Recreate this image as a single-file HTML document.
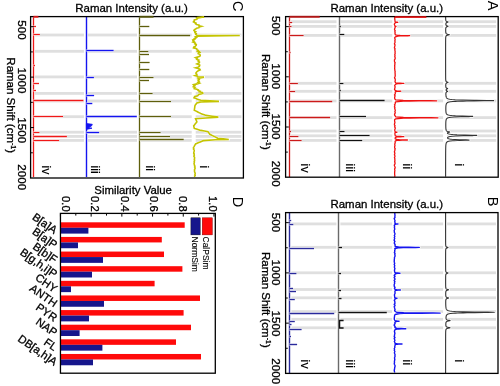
<!DOCTYPE html><html><head><meta charset="utf-8"><style>html,body{margin:0;padding:0;background:#fff;width:500px;height:386px;overflow:hidden}</style></head><body><svg width="500" height="386" viewBox="0 0 500 386" font-family="'Liberation Sans', sans-serif" style="display:block;will-change:transform">
<style>text{stroke:#000;stroke-width:0.3px}</style>
<rect width="500" height="386" fill="#fff"/>
<rect x="286.6" y="20.3" width="209.59999999999997" height="2.8" fill="#dfdfdf"/>
<rect x="286.6" y="25.0" width="209.59999999999997" height="2.8" fill="#dfdfdf"/>
<rect x="286.6" y="34.0" width="209.59999999999997" height="2.8" fill="#dfdfdf"/>
<rect x="286.6" y="81.89999999999999" width="209.59999999999997" height="2.8" fill="#dfdfdf"/>
<rect x="286.6" y="89.89999999999999" width="209.59999999999997" height="2.8" fill="#dfdfdf"/>
<rect x="286.6" y="99.5" width="209.59999999999997" height="2.8" fill="#dfdfdf"/>
<rect x="286.6" y="116.19999999999999" width="209.59999999999997" height="2.8" fill="#dfdfdf"/>
<rect x="286.6" y="129.6" width="209.59999999999997" height="2.8" fill="#dfdfdf"/>
<rect x="286.6" y="134.4" width="209.59999999999997" height="2.8" fill="#dfdfdf"/>
<rect x="286.6" y="139.0" width="209.59999999999997" height="2.8" fill="#dfdfdf"/>
<rect x="284.0" y="17.6" width="4" height="158.6" fill="#fff"/>
<rect x="287.0" y="17.6" width="4" height="158.6" fill="#fff"/>
<rect x="336.5" y="17.6" width="4" height="158.6" fill="#fff"/>
<rect x="392.3" y="17.6" width="4" height="158.6" fill="#fff"/>
<rect x="443.1" y="17.6" width="4" height="158.6" fill="#fff"/>
<path d="M289.5,16.8 L289.5,177" stroke="#cc1a1a" stroke-width="1.3" fill="none"/>
<path d="M289.5,16.5 L319.7,16.5" stroke="#fff" stroke-width="2.6" fill="none"/>
<path d="M289.5,22.5 L292.2,22.5" stroke="#fff" stroke-width="2.6" fill="none"/>
<path d="M289.5,26.5 L291.5,26.5" stroke="#fff" stroke-width="2.6" fill="none"/>
<path d="M289.5,35.5 L303.6,35.5" stroke="#fff" stroke-width="2.6" fill="none"/>
<path d="M289.5,52.5 L290.6,52.5" stroke="#fff" stroke-width="2.6" fill="none"/>
<path d="M289.5,83.5 L297.9,83.5" stroke="#fff" stroke-width="2.6" fill="none"/>
<path d="M289.5,91.5 L295.1,91.5" stroke="#fff" stroke-width="2.6" fill="none"/>
<path d="M289.5,101.5 L332.2,101.5" stroke="#fff" stroke-width="2.6" fill="none"/>
<path d="M289.5,117.5 L330.1,117.5" stroke="#fff" stroke-width="2.6" fill="none"/>
<path d="M289.5,131.5 L291,131.5" stroke="#fff" stroke-width="2.6" fill="none"/>
<path d="M289.5,136.5 L298.4,136.5" stroke="#fff" stroke-width="2.6" fill="none"/>
<path d="M289.5,140.5 L301.6,140.5" stroke="#fff" stroke-width="2.6" fill="none"/>
<path d="M289.5,16.5 L319.7,16.5" stroke="#cc1a1a" stroke-width="1.3" fill="none"/>
<path d="M289.5,22.5 L292.2,22.5" stroke="#cc1a1a" stroke-width="1.3" fill="none"/>
<path d="M289.5,26.5 L291.5,26.5" stroke="#cc1a1a" stroke-width="1.3" fill="none"/>
<path d="M289.5,35.5 L303.6,35.5" stroke="#cc1a1a" stroke-width="1.3" fill="none"/>
<path d="M289.5,52.5 L290.6,52.5" stroke="#cc1a1a" stroke-width="1.3" fill="none"/>
<path d="M289.5,83.5 L297.9,83.5" stroke="#cc1a1a" stroke-width="1.3" fill="none"/>
<path d="M289.5,91.5 L295.1,91.5" stroke="#cc1a1a" stroke-width="1.3" fill="none"/>
<path d="M289.5,101.5 L332.2,101.5" stroke="#cc1a1a" stroke-width="1.3" fill="none"/>
<path d="M289.5,117.5 L330.1,117.5" stroke="#cc1a1a" stroke-width="1.3" fill="none"/>
<path d="M289.5,131.5 L291,131.5" stroke="#cc1a1a" stroke-width="1.3" fill="none"/>
<path d="M289.5,136.5 L298.4,136.5" stroke="#cc1a1a" stroke-width="1.3" fill="none"/>
<path d="M289.5,140.5 L301.6,140.5" stroke="#cc1a1a" stroke-width="1.3" fill="none"/>
<path d="M339.5,16.8 L339.5,177" stroke="#6a6a6a" stroke-width="1.4" fill="none"/>
<path d="M339.5,26.5 L340.8,26.5" stroke="#fff" stroke-width="2.6" fill="none"/>
<path d="M339.5,34.5 L344.3,34.5" stroke="#fff" stroke-width="2.6" fill="none"/>
<path d="M339.5,83.5 L343.4,83.5" stroke="#fff" stroke-width="2.6" fill="none"/>
<path d="M339.5,90.5 L340.8,90.5" stroke="#fff" stroke-width="2.6" fill="none"/>
<path d="M339.5,100.5 L384.6,100.5" stroke="#fff" stroke-width="2.6" fill="none"/>
<path d="M339.5,116.5 L366,116.5" stroke="#fff" stroke-width="2.6" fill="none"/>
<path d="M339.5,131.5 L344.5,131.5" stroke="#fff" stroke-width="2.6" fill="none"/>
<path d="M339.5,135.5 L369.6,135.5" stroke="#fff" stroke-width="2.6" fill="none"/>
<path d="M339.5,140.5 L362.2,140.5" stroke="#fff" stroke-width="2.6" fill="none"/>
<path d="M339.5,26.5 L340.8,26.5" stroke="#111" stroke-width="1.3" fill="none"/>
<path d="M339.5,34.5 L344.3,34.5" stroke="#111" stroke-width="1.3" fill="none"/>
<path d="M339.5,83.5 L343.4,83.5" stroke="#111" stroke-width="1.3" fill="none"/>
<path d="M339.5,90.5 L340.8,90.5" stroke="#111" stroke-width="1.3" fill="none"/>
<path d="M339.5,100.5 L384.6,100.5" stroke="#111" stroke-width="1.3" fill="none"/>
<path d="M339.5,116.5 L366,116.5" stroke="#111" stroke-width="1.3" fill="none"/>
<path d="M339.5,131.5 L344.5,131.5" stroke="#111" stroke-width="1.3" fill="none"/>
<path d="M339.5,135.5 L369.6,135.5" stroke="#111" stroke-width="1.3" fill="none"/>
<path d="M339.5,140.5 L362.2,140.5" stroke="#111" stroke-width="1.3" fill="none"/>
<path d="M394.57,16.80 L394.85,17.80 L394.69,18.80 L394.91,19.80 L394.96,20.80 L395.15,21.80 L395.40,21.94 L395.89,22.06 L396.58,22.15 L397.41,22.23 L397.81,22.30 L397.41,22.37 L396.58,22.45 L395.89,22.54 L395.41,22.66 L395.15,22.80 L394.46,23.80 L394.40,24.80 L394.91,25.80 L395.05,26.04 L395.24,26.16 L395.52,26.25 L395.85,26.33 L396.01,26.40 L395.85,26.47 L395.52,26.55 L395.24,26.64 L395.05,26.76 L395.01,26.80 L395.13,27.80 L394.60,28.80 L394.58,29.80 L395.27,30.80 L394.81,31.80 L395.16,32.80 L394.91,33.80 L395.37,34.80 L397.78,35.34 L400.17,35.46 L403.60,35.55 L407.74,35.63 L409.70,35.70 L407.74,35.77 L406.19,35.80 L403.59,35.85 L400.17,35.94 L397.78,36.06 L395.32,36.80 L394.60,37.80 L394.97,38.80 L395.16,39.80 L394.84,40.80 L395.03,41.80 L394.96,42.80 L394.42,43.80 L395.04,44.80 L394.89,45.80 L394.63,46.80 L394.38,47.80 L395.13,48.80 L394.78,49.80 L395.00,50.80 L395.14,51.80 L395.00,52.80 L395.18,53.80 L394.71,54.80 L395.07,55.80 L394.75,56.80 L395.19,57.80 L395.14,58.80 L394.44,59.80 L394.47,60.80 L394.55,61.80 L395.22,62.80 L394.75,63.80 L394.92,64.80 L394.62,65.80 L394.81,66.80 L394.70,67.80 L394.67,68.80 L394.88,69.80 L394.88,70.80 L395.17,71.80 L394.97,72.80 L395.19,73.80 L395.13,74.80 L395.25,75.80 L394.96,76.80 L394.51,77.80 L395.14,78.80 L395.25,79.80 L395.21,80.80 L394.98,81.80 L395.55,82.80 L396.61,83.04 L398.05,83.16 L400.12,83.25 L402.62,83.33 L403.81,83.40 L402.62,83.47 L400.12,83.55 L398.05,83.64 L396.61,83.76 L396.32,83.80 L395.15,84.80 L394.60,85.80 L395.14,86.80 L394.90,87.80 L394.66,88.80 L394.52,89.80 L395.83,90.80 L396.02,90.84 L396.98,90.96 L398.36,91.05 L400.03,91.13 L400.82,91.20 L400.03,91.27 L398.36,91.35 L396.98,91.44 L396.02,91.56 L395.31,91.80 L395.21,92.80 L395.29,93.80 L394.47,94.80 L395.12,95.80 L394.78,96.80 L394.59,97.80 L394.83,98.80 L395.61,99.80 L403.21,100.52 L409.59,100.61 L419.02,100.68 L430.29,100.74 L436.81,100.80 L430.29,100.86 L419.02,100.92 L409.59,100.99 L403.21,101.08 L395.61,101.80 L395.25,102.80 L395.23,103.80 L394.45,104.80 L394.94,105.80 L394.42,106.80 L395.02,107.80 L394.67,108.80 L395.17,109.80 L395.26,110.80 L394.84,111.80 L395.29,112.80 L394.69,113.80 L394.52,114.80 L395.11,115.80 L395.64,116.80 L403.45,117.52 L410.01,117.61 L419.71,117.68 L431.30,117.74 L438.01,117.80 L431.30,117.86 L419.71,117.92 L410.01,117.99 L403.45,118.08 L395.64,118.80 L394.59,119.80 L394.63,120.80 L394.78,121.80 L394.94,122.80 L394.52,123.80 L394.41,124.80 L395.15,125.80 L394.65,126.80 L395.23,127.80 L395.18,128.80 L394.72,129.80 L394.82,130.80 L395.19,131.80 L395.26,131.84 L395.62,131.96 L396.12,132.05 L396.74,132.13 L397.03,132.20 L396.74,132.27 L396.13,132.35 L395.62,132.44 L395.27,132.56 L395.01,132.80 L394.90,133.80 L395.05,134.80 L395.27,135.80 L396.64,136.24 L398.08,136.36 L400.15,136.45 L402.66,136.53 L403.84,136.60 L402.66,136.67 L400.16,136.75 L398.87,136.80 L398.09,136.84 L396.65,136.96 L395.17,137.80 L395.19,138.80 L397.36,139.64 L399.37,139.76 L400.47,139.80 L402.27,139.85 L405.77,139.93 L407.43,140.00 L405.77,140.07 L402.26,140.15 L399.36,140.24 L397.34,140.36 L395.43,140.80 L395.05,141.80 L395.26,142.80 L394.84,143.80 L394.76,144.80 L395.02,145.80 L394.58,146.80 L394.63,147.80 L395.24,148.80 L394.83,149.80 L394.85,150.80 L394.37,151.80 L394.73,152.80 L394.88,153.80 L394.37,154.80 L394.91,155.80 L394.92,156.80 L394.41,157.80 L394.92,158.80 L394.77,159.80 L394.96,160.80 L394.67,161.80 L394.99,162.80 L395.02,163.80 L394.37,164.80 L394.41,165.80 L394.96,166.80 L395.22,167.80 L394.58,168.80 L394.76,169.80 L394.88,170.80 L394.64,171.80 L394.68,172.80 L394.63,173.80 L394.68,174.80 L394.89,175.80 L394.62,176.80" stroke="#fff" stroke-width="2.6" fill="none" stroke-linejoin="round"/>
<path d="M394.57,16.80 L394.85,17.80 L394.69,18.80 L394.91,19.80 L394.96,20.80 L395.15,21.80 L395.40,21.94 L395.89,22.06 L396.58,22.15 L397.41,22.23 L397.81,22.30 L397.41,22.37 L396.58,22.45 L395.89,22.54 L395.41,22.66 L395.15,22.80 L394.46,23.80 L394.40,24.80 L394.91,25.80 L395.05,26.04 L395.24,26.16 L395.52,26.25 L395.85,26.33 L396.01,26.40 L395.85,26.47 L395.52,26.55 L395.24,26.64 L395.05,26.76 L395.01,26.80 L395.13,27.80 L394.60,28.80 L394.58,29.80 L395.27,30.80 L394.81,31.80 L395.16,32.80 L394.91,33.80 L395.37,34.80 L397.78,35.34 L400.17,35.46 L403.60,35.55 L407.74,35.63 L409.70,35.70 L407.74,35.77 L406.19,35.80 L403.59,35.85 L400.17,35.94 L397.78,36.06 L395.32,36.80 L394.60,37.80 L394.97,38.80 L395.16,39.80 L394.84,40.80 L395.03,41.80 L394.96,42.80 L394.42,43.80 L395.04,44.80 L394.89,45.80 L394.63,46.80 L394.38,47.80 L395.13,48.80 L394.78,49.80 L395.00,50.80 L395.14,51.80 L395.00,52.80 L395.18,53.80 L394.71,54.80 L395.07,55.80 L394.75,56.80 L395.19,57.80 L395.14,58.80 L394.44,59.80 L394.47,60.80 L394.55,61.80 L395.22,62.80 L394.75,63.80 L394.92,64.80 L394.62,65.80 L394.81,66.80 L394.70,67.80 L394.67,68.80 L394.88,69.80 L394.88,70.80 L395.17,71.80 L394.97,72.80 L395.19,73.80 L395.13,74.80 L395.25,75.80 L394.96,76.80 L394.51,77.80 L395.14,78.80 L395.25,79.80 L395.21,80.80 L394.98,81.80 L395.55,82.80 L396.61,83.04 L398.05,83.16 L400.12,83.25 L402.62,83.33 L403.81,83.40 L402.62,83.47 L400.12,83.55 L398.05,83.64 L396.61,83.76 L396.32,83.80 L395.15,84.80 L394.60,85.80 L395.14,86.80 L394.90,87.80 L394.66,88.80 L394.52,89.80 L395.83,90.80 L396.02,90.84 L396.98,90.96 L398.36,91.05 L400.03,91.13 L400.82,91.20 L400.03,91.27 L398.36,91.35 L396.98,91.44 L396.02,91.56 L395.31,91.80 L395.21,92.80 L395.29,93.80 L394.47,94.80 L395.12,95.80 L394.78,96.80 L394.59,97.80 L394.83,98.80 L395.61,99.80 L403.21,100.52 L409.59,100.61 L419.02,100.68 L430.29,100.74 L436.81,100.80 L430.29,100.86 L419.02,100.92 L409.59,100.99 L403.21,101.08 L395.61,101.80 L395.25,102.80 L395.23,103.80 L394.45,104.80 L394.94,105.80 L394.42,106.80 L395.02,107.80 L394.67,108.80 L395.17,109.80 L395.26,110.80 L394.84,111.80 L395.29,112.80 L394.69,113.80 L394.52,114.80 L395.11,115.80 L395.64,116.80 L403.45,117.52 L410.01,117.61 L419.71,117.68 L431.30,117.74 L438.01,117.80 L431.30,117.86 L419.71,117.92 L410.01,117.99 L403.45,118.08 L395.64,118.80 L394.59,119.80 L394.63,120.80 L394.78,121.80 L394.94,122.80 L394.52,123.80 L394.41,124.80 L395.15,125.80 L394.65,126.80 L395.23,127.80 L395.18,128.80 L394.72,129.80 L394.82,130.80 L395.19,131.80 L395.26,131.84 L395.62,131.96 L396.12,132.05 L396.74,132.13 L397.03,132.20 L396.74,132.27 L396.13,132.35 L395.62,132.44 L395.27,132.56 L395.01,132.80 L394.90,133.80 L395.05,134.80 L395.27,135.80 L396.64,136.24 L398.08,136.36 L400.15,136.45 L402.66,136.53 L403.84,136.60 L402.66,136.67 L400.16,136.75 L398.87,136.80 L398.09,136.84 L396.65,136.96 L395.17,137.80 L395.19,138.80 L397.36,139.64 L399.37,139.76 L400.47,139.80 L402.27,139.85 L405.77,139.93 L407.43,140.00 L405.77,140.07 L402.26,140.15 L399.36,140.24 L397.34,140.36 L395.43,140.80 L395.05,141.80 L395.26,142.80 L394.84,143.80 L394.76,144.80 L395.02,145.80 L394.58,146.80 L394.63,147.80 L395.24,148.80 L394.83,149.80 L394.85,150.80 L394.37,151.80 L394.73,152.80 L394.88,153.80 L394.37,154.80 L394.91,155.80 L394.92,156.80 L394.41,157.80 L394.92,158.80 L394.77,159.80 L394.96,160.80 L394.67,161.80 L394.99,162.80 L395.02,163.80 L394.37,164.80 L394.41,165.80 L394.96,166.80 L395.22,167.80 L394.58,168.80 L394.76,169.80 L394.88,170.80 L394.64,171.80 L394.68,172.80 L394.63,173.80 L394.68,174.80 L394.89,175.80 L394.62,176.80" stroke="#ee1111" stroke-width="1.3" fill="none" stroke-linejoin="round"/>
<path d="M394.8,16.9 L426.3,16.9" stroke="#ee1111" stroke-width="1.4"/>
<path d="M445.63,16.80 L445.64,17.05 L445.64,17.30 L445.64,17.55 L445.65,17.80 L445.65,18.05 L445.66,18.30 L445.67,18.55 L445.67,18.80 L445.69,19.05 L445.70,19.30 L445.72,19.55 L445.74,19.80 L445.77,20.05 L445.82,20.30 L445.88,20.55 L445.98,20.80 L446.11,21.00 L446.15,21.05 L446.44,21.30 L446.49,21.33 L446.96,21.55 L447.04,21.58 L447.71,21.80 L448.04,22.00 L448.02,22.05 L447.71,22.20 L447.41,22.30 L447.06,22.42 L446.74,22.55 L446.51,22.67 L446.33,22.80 L446.14,23.00 L446.11,23.05 L445.98,23.30 L445.91,23.55 L445.88,23.80 L445.86,24.05 L445.86,24.30 L445.88,24.55 L445.93,24.80 L446.01,25.05 L446.15,25.30 L446.40,25.55 L446.52,25.63 L446.86,25.80 L447.06,25.88 L447.57,26.05 L447.72,26.10 L448.05,26.30 L447.72,26.50 L447.57,26.55 L447.05,26.72 L446.84,26.80 L446.50,26.97 L446.38,27.05 L446.12,27.30 L445.97,27.55 L445.88,27.80 L445.82,28.05 L445.78,28.30 L445.75,28.55 L445.74,28.80 L445.72,29.05 L445.71,29.30 L445.70,29.55 L445.70,29.80 L445.70,30.05 L445.70,30.30 L445.70,30.55 L445.70,30.80 L445.71,31.05 L445.71,31.30 L445.72,31.55 L445.74,31.80 L445.76,32.05 L445.78,32.30 L445.81,32.55 L445.86,32.80 L445.93,33.05 L446.04,33.30 L446.21,33.55 L446.36,33.70 L446.49,33.80 L446.94,34.03 L446.99,34.05 L447.79,34.28 L447.87,34.30 L448.81,34.50 L449.01,34.55 L449.32,34.70 L449.17,34.80 L448.81,34.90 L448.10,35.05 L447.78,35.12 L447.13,35.30 L446.94,35.37 L446.57,35.55 L446.35,35.70 L446.25,35.80 L446.06,36.05 L445.94,36.30 L445.86,36.55 L445.81,36.80 L445.77,37.05 L445.74,37.30 L445.72,37.55 L445.71,37.80 L445.69,38.05 L445.68,38.30 L445.67,38.55 L445.67,38.80 L445.66,39.05 L445.65,39.30 L445.65,39.55 L445.65,39.80 L445.64,40.05 L445.64,40.30 L445.64,40.55 L445.63,40.80 L445.63,41.05 L445.63,41.30 L445.63,41.55 L445.63,41.80 L445.63,42.05 L445.63,42.30 L445.62,42.55 L445.62,42.80 L445.62,43.05 L445.62,43.30 L445.62,43.55 L445.62,43.80 L445.62,44.05 L445.62,44.30 L445.62,44.55 L445.62,44.80 L445.62,45.05 L445.62,45.30 L445.62,45.55 L445.62,45.80 L445.62,46.05 L445.62,46.30 L445.62,46.55 L445.61,46.80 L445.61,47.05 L445.61,47.30 L445.61,47.55 L445.61,47.80 L445.61,48.05 L445.61,48.30 L445.61,48.55 L445.61,48.80 L445.61,49.05 L445.61,49.30 L445.61,49.55 L445.61,49.80 L445.61,50.05 L445.61,50.30 L445.61,50.55 L445.61,50.80 L445.61,51.05 L445.61,51.30 L445.61,51.55 L445.61,51.80 L445.61,52.05 L445.61,52.30 L445.61,52.55 L445.61,52.80 L445.61,53.05 L445.61,53.30 L445.61,53.55 L445.61,53.80 L445.61,54.05 L445.61,54.30 L445.61,54.55 L445.61,54.80 L445.61,55.05 L445.61,55.30 L445.61,55.55 L445.61,55.80 L445.61,56.05 L445.61,56.30 L445.61,56.55 L445.61,56.80 L445.61,57.05 L445.61,57.30 L445.61,57.55 L445.61,57.80 L445.61,58.05 L445.61,58.30 L445.61,58.55 L445.61,58.80 L445.61,59.05 L445.61,59.30 L445.61,59.55 L445.61,59.80 L445.61,60.05 L445.61,60.30 L445.61,60.55 L445.61,60.80 L445.61,61.05 L445.61,61.30 L445.61,61.55 L445.61,61.80 L445.61,62.05 L445.61,62.30 L445.61,62.55 L445.61,62.80 L445.61,63.05 L445.61,63.30 L445.61,63.55 L445.61,63.80 L445.62,64.05 L445.62,64.30 L445.62,64.55 L445.62,64.80 L445.62,65.05 L445.62,65.30 L445.62,65.55 L445.62,65.80 L445.62,66.05 L445.62,66.30 L445.62,66.55 L445.62,66.80 L445.62,67.05 L445.62,67.30 L445.62,67.55 L445.62,67.80 L445.62,68.05 L445.62,68.30 L445.62,68.55 L445.62,68.80 L445.62,69.05 L445.62,69.30 L445.62,69.55 L445.62,69.80 L445.62,70.05 L445.62,70.30 L445.62,70.55 L445.62,70.80 L445.62,71.05 L445.62,71.30 L445.62,71.55 L445.62,71.80 L445.62,72.05 L445.63,72.30 L445.63,72.55 L445.63,72.80 L445.63,73.05 L445.63,73.30 L445.63,73.55 L445.63,73.80 L445.63,74.05 L445.63,74.30 L445.63,74.55 L445.63,74.80 L445.63,75.05 L445.64,75.30 L445.64,75.55 L445.64,75.80 L445.64,76.05 L445.64,76.30 L445.64,76.55 L445.65,76.80 L445.65,77.05 L445.65,77.30 L445.65,77.55 L445.66,77.80 L445.66,78.05 L445.67,78.30 L445.67,78.55 L445.68,78.80 L445.69,79.05 L445.69,79.30 L445.71,79.55 L445.72,79.80 L445.74,80.05 L445.77,80.30 L445.80,80.55 L445.85,80.80 L445.93,81.05 L446.05,81.30 L446.12,81.40 L446.26,81.55 L446.50,81.73 L446.63,81.80 L447.05,81.98 L447.26,82.05 L447.72,82.20 L447.96,82.30 L448.05,82.40 L447.85,82.55 L447.72,82.60 L447.12,82.80 L447.06,82.82 L446.55,83.05 L446.52,83.07 L446.23,83.30 L446.14,83.40 L446.04,83.55 L445.94,83.80 L445.87,84.05 L445.83,84.30 L445.80,84.55 L445.78,84.80 L445.77,85.05 L445.77,85.30 L445.77,85.55 L445.77,85.80 L445.78,86.05 L445.79,86.30 L445.81,86.55 L445.84,86.80 L445.88,87.05 L445.95,87.30 L446.06,87.55 L446.09,87.60 L446.25,87.80 L446.40,87.93 L446.58,88.05 L446.84,88.18 L447.13,88.30 L447.37,88.40 L447.62,88.55 L447.64,88.60 L447.39,88.80 L446.88,89.02 L446.82,89.05 L446.46,89.27 L446.43,89.30 L446.23,89.55 L446.20,89.60 L446.14,89.80 L446.12,90.05 L446.17,90.30 L446.21,90.40 L446.30,90.55 L446.48,90.73 L446.57,90.80 L446.90,90.98 L447.06,91.05 L447.42,91.20 L447.60,91.30 L447.67,91.40 L447.51,91.55 L447.41,91.60 L446.93,91.80 L446.88,91.82 L446.47,92.05 L446.45,92.07 L446.22,92.30 L446.15,92.40 L446.07,92.55 L445.99,92.80 L445.94,93.05 L445.91,93.30 L445.89,93.55 L445.88,93.80 L445.88,94.05 L445.88,94.30 L445.89,94.55 L445.90,94.80 L445.92,95.05 L445.94,95.30 L445.96,95.55 L445.99,95.80 L446.02,96.05 L446.06,96.30 L446.11,96.55 L446.17,96.80 L446.25,97.05 L446.34,97.30 L446.46,97.55 L446.60,97.80 L446.80,98.05 L447.05,98.30 L447.40,98.55 L447.90,98.80 L448.64,99.05 L449.79,99.30 L451.72,99.55 L455.24,99.80 L462.25,100.05 L463.06,100.07 L474.20,100.27 L476.36,100.30 L487.02,100.44 L492.90,100.55 L493.64,100.60 L487.02,100.76 L484.04,100.80 L474.20,100.93 L466.83,101.05 L463.06,101.13 L457.46,101.30 L455.24,101.40 L452.87,101.55 L450.44,101.80 L449.04,102.05 L448.16,102.30 L447.58,102.55 L447.18,102.80 L446.89,103.05 L446.68,103.30 L446.52,103.55 L446.39,103.80 L446.29,104.05 L446.21,104.30 L446.14,104.55 L446.09,104.80 L446.04,105.05 L446.01,105.30 L445.98,105.55 L445.95,105.80 L445.93,106.05 L445.91,106.30 L445.89,106.55 L445.88,106.80 L445.86,107.05 L445.85,107.30 L445.85,107.55 L445.84,107.80 L445.84,108.05 L445.83,108.30 L445.83,108.55 L445.83,108.80 L445.83,109.05 L445.83,109.30 L445.83,109.55 L445.84,109.80 L445.84,110.05 L445.85,110.30 L445.86,110.55 L445.87,110.80 L445.88,111.05 L445.90,111.30 L445.92,111.55 L445.94,111.80 L445.97,112.05 L446.00,112.30 L446.04,112.55 L446.09,112.80 L446.15,113.05 L446.23,113.30 L446.33,113.55 L446.46,113.80 L446.63,114.05 L446.86,114.30 L447.18,114.55 L447.65,114.80 L448.37,115.05 L449.55,115.30 L451.08,115.50 L451.60,115.55 L455.42,115.80 L461.83,116.03 L462.55,116.05 L469.02,116.22 L471.49,116.30 L472.76,116.40 L470.05,116.55 L469.02,116.58 L461.48,116.78 L460.80,116.80 L455.42,117.00 L454.44,117.05 L451.08,117.30 L449.26,117.55 L448.20,117.80 L447.54,118.05 L447.10,118.30 L446.80,118.55 L446.58,118.80 L446.42,119.05 L446.30,119.30 L446.21,119.55 L446.13,119.80 L446.07,120.05 L446.02,120.30 L445.98,120.55 L445.95,120.80 L445.92,121.05 L445.90,121.30 L445.88,121.55 L445.86,121.80 L445.85,122.05 L445.83,122.30 L445.82,122.55 L445.82,122.80 L445.81,123.05 L445.80,123.30 L445.80,123.55 L445.79,123.80 L445.79,124.05 L445.79,124.30 L445.78,124.55 L445.78,124.80 L445.78,125.05 L445.78,125.30 L445.79,125.55 L445.79,125.80 L445.79,126.05 L445.79,126.30 L445.80,126.55 L445.81,126.80 L445.81,127.05 L445.82,127.30 L445.83,127.55 L445.84,127.80 L445.85,128.05 L445.87,128.30 L445.89,128.55 L445.91,128.80 L445.93,129.05 L445.96,129.30 L446.00,129.55 L446.05,129.80 L446.11,130.05 L446.20,130.30 L446.31,130.55 L446.49,130.80 L446.69,131.00 L446.76,131.05 L447.21,131.30 L447.28,131.33 L447.99,131.55 L448.11,131.58 L449.11,131.80 L449.63,132.00 L449.62,132.05 L449.24,132.20 L448.84,132.30 L448.39,132.42 L448.00,132.55 L447.75,132.67 L447.57,132.80 L447.45,133.00 L447.44,133.05 L447.52,133.30 L447.78,133.55 L448.25,133.80 L449.03,134.05 L450.35,134.30 L452.08,134.50 L452.67,134.55 L457.02,134.80 L464.33,135.03 L465.15,135.05 L472.54,135.22 L475.35,135.30 L476.81,135.40 L473.72,135.55 L472.55,135.58 L463.97,135.78 L463.19,135.80 L457.07,136.00 L455.97,136.05 L452.17,136.30 L450.13,136.55 L448.97,136.80 L448.29,137.05 L447.87,137.30 L447.64,137.55 L447.55,137.80 L447.57,138.05 L447.73,138.30 L448.06,138.55 L448.65,138.80 L449.70,139.05 L450.70,139.20 L451.61,139.30 L454.35,139.50 L455.29,139.55 L459.50,139.72 L462.01,139.80 L465.93,139.92 L468.83,140.05 L469.11,140.10 L465.89,140.28 L465.26,140.30 L459.71,140.47 L457.46,140.55 L454.20,140.70 L452.62,140.80 L450.46,141.00 L450.07,141.05 L448.66,141.30 L447.83,141.55 L447.29,141.80 L446.94,142.05 L446.68,142.30 L446.50,142.55 L446.36,142.80 L446.25,143.05 L446.17,143.30 L446.10,143.55 L446.04,143.80 L446.00,144.05 L445.96,144.30 L445.93,144.55 L445.90,144.80 L445.87,145.05 L445.85,145.30 L445.83,145.55 L445.82,145.80 L445.80,146.05 L445.79,146.30 L445.78,146.55 L445.77,146.80 L445.76,147.05 L445.75,147.30 L445.74,147.55 L445.73,147.80 L445.73,148.05 L445.72,148.30 L445.71,148.55 L445.71,148.80 L445.70,149.05 L445.70,149.30 L445.70,149.55 L445.69,149.80 L445.69,150.05 L445.68,150.30 L445.68,150.55 L445.68,150.80 L445.68,151.05 L445.67,151.30 L445.67,151.55 L445.67,151.80 L445.67,152.05 L445.66,152.30 L445.66,152.55 L445.66,152.80 L445.66,153.05 L445.66,153.30 L445.65,153.55 L445.65,153.80 L445.65,154.05 L445.65,154.30 L445.65,154.55 L445.65,154.80 L445.65,155.05 L445.64,155.30 L445.64,155.55 L445.64,155.80 L445.64,156.05 L445.64,156.30 L445.64,156.55 L445.64,156.80 L445.64,157.05 L445.64,157.30 L445.64,157.55 L445.63,157.80 L445.63,158.05 L445.63,158.30 L445.63,158.55 L445.63,158.80 L445.63,159.05 L445.63,159.30 L445.63,159.55 L445.63,159.80 L445.63,160.05 L445.63,160.30 L445.63,160.55 L445.63,160.80 L445.63,161.05 L445.63,161.30 L445.63,161.55 L445.63,161.80 L445.62,162.05 L445.62,162.30 L445.62,162.55 L445.62,162.80 L445.62,163.05 L445.62,163.30 L445.62,163.55 L445.62,163.80 L445.62,164.05 L445.62,164.30 L445.62,164.55 L445.62,164.80 L445.62,165.05 L445.62,165.30 L445.62,165.55 L445.62,165.80 L445.62,166.05 L445.62,166.30 L445.62,166.55 L445.62,166.80 L445.62,167.05 L445.62,167.30 L445.62,167.55 L445.62,167.80 L445.62,168.05 L445.62,168.30 L445.62,168.55 L445.62,168.80 L445.62,169.05 L445.62,169.30 L445.62,169.55 L445.62,169.80 L445.61,170.05 L445.61,170.30 L445.61,170.55 L445.61,170.80 L445.61,171.05 L445.61,171.30 L445.61,171.55 L445.61,171.80 L445.61,172.05 L445.61,172.30 L445.61,172.55 L445.61,172.80 L445.61,173.05 L445.61,173.30 L445.61,173.55 L445.61,173.80 L445.61,174.05 L445.61,174.30 L445.61,174.55 L445.61,174.80 L445.61,175.05 L445.61,175.30 L445.61,175.55 L445.61,175.80 L445.61,176.05 L445.61,176.30 L445.61,176.55 L445.61,176.80" stroke="#fff" stroke-width="2.6" fill="none" stroke-linejoin="round"/>
<path d="M445.63,16.80 L445.64,17.05 L445.64,17.30 L445.64,17.55 L445.65,17.80 L445.65,18.05 L445.66,18.30 L445.67,18.55 L445.67,18.80 L445.69,19.05 L445.70,19.30 L445.72,19.55 L445.74,19.80 L445.77,20.05 L445.82,20.30 L445.88,20.55 L445.98,20.80 L446.11,21.00 L446.15,21.05 L446.44,21.30 L446.49,21.33 L446.96,21.55 L447.04,21.58 L447.71,21.80 L448.04,22.00 L448.02,22.05 L447.71,22.20 L447.41,22.30 L447.06,22.42 L446.74,22.55 L446.51,22.67 L446.33,22.80 L446.14,23.00 L446.11,23.05 L445.98,23.30 L445.91,23.55 L445.88,23.80 L445.86,24.05 L445.86,24.30 L445.88,24.55 L445.93,24.80 L446.01,25.05 L446.15,25.30 L446.40,25.55 L446.52,25.63 L446.86,25.80 L447.06,25.88 L447.57,26.05 L447.72,26.10 L448.05,26.30 L447.72,26.50 L447.57,26.55 L447.05,26.72 L446.84,26.80 L446.50,26.97 L446.38,27.05 L446.12,27.30 L445.97,27.55 L445.88,27.80 L445.82,28.05 L445.78,28.30 L445.75,28.55 L445.74,28.80 L445.72,29.05 L445.71,29.30 L445.70,29.55 L445.70,29.80 L445.70,30.05 L445.70,30.30 L445.70,30.55 L445.70,30.80 L445.71,31.05 L445.71,31.30 L445.72,31.55 L445.74,31.80 L445.76,32.05 L445.78,32.30 L445.81,32.55 L445.86,32.80 L445.93,33.05 L446.04,33.30 L446.21,33.55 L446.36,33.70 L446.49,33.80 L446.94,34.03 L446.99,34.05 L447.79,34.28 L447.87,34.30 L448.81,34.50 L449.01,34.55 L449.32,34.70 L449.17,34.80 L448.81,34.90 L448.10,35.05 L447.78,35.12 L447.13,35.30 L446.94,35.37 L446.57,35.55 L446.35,35.70 L446.25,35.80 L446.06,36.05 L445.94,36.30 L445.86,36.55 L445.81,36.80 L445.77,37.05 L445.74,37.30 L445.72,37.55 L445.71,37.80 L445.69,38.05 L445.68,38.30 L445.67,38.55 L445.67,38.80 L445.66,39.05 L445.65,39.30 L445.65,39.55 L445.65,39.80 L445.64,40.05 L445.64,40.30 L445.64,40.55 L445.63,40.80 L445.63,41.05 L445.63,41.30 L445.63,41.55 L445.63,41.80 L445.63,42.05 L445.63,42.30 L445.62,42.55 L445.62,42.80 L445.62,43.05 L445.62,43.30 L445.62,43.55 L445.62,43.80 L445.62,44.05 L445.62,44.30 L445.62,44.55 L445.62,44.80 L445.62,45.05 L445.62,45.30 L445.62,45.55 L445.62,45.80 L445.62,46.05 L445.62,46.30 L445.62,46.55 L445.61,46.80 L445.61,47.05 L445.61,47.30 L445.61,47.55 L445.61,47.80 L445.61,48.05 L445.61,48.30 L445.61,48.55 L445.61,48.80 L445.61,49.05 L445.61,49.30 L445.61,49.55 L445.61,49.80 L445.61,50.05 L445.61,50.30 L445.61,50.55 L445.61,50.80 L445.61,51.05 L445.61,51.30 L445.61,51.55 L445.61,51.80 L445.61,52.05 L445.61,52.30 L445.61,52.55 L445.61,52.80 L445.61,53.05 L445.61,53.30 L445.61,53.55 L445.61,53.80 L445.61,54.05 L445.61,54.30 L445.61,54.55 L445.61,54.80 L445.61,55.05 L445.61,55.30 L445.61,55.55 L445.61,55.80 L445.61,56.05 L445.61,56.30 L445.61,56.55 L445.61,56.80 L445.61,57.05 L445.61,57.30 L445.61,57.55 L445.61,57.80 L445.61,58.05 L445.61,58.30 L445.61,58.55 L445.61,58.80 L445.61,59.05 L445.61,59.30 L445.61,59.55 L445.61,59.80 L445.61,60.05 L445.61,60.30 L445.61,60.55 L445.61,60.80 L445.61,61.05 L445.61,61.30 L445.61,61.55 L445.61,61.80 L445.61,62.05 L445.61,62.30 L445.61,62.55 L445.61,62.80 L445.61,63.05 L445.61,63.30 L445.61,63.55 L445.61,63.80 L445.62,64.05 L445.62,64.30 L445.62,64.55 L445.62,64.80 L445.62,65.05 L445.62,65.30 L445.62,65.55 L445.62,65.80 L445.62,66.05 L445.62,66.30 L445.62,66.55 L445.62,66.80 L445.62,67.05 L445.62,67.30 L445.62,67.55 L445.62,67.80 L445.62,68.05 L445.62,68.30 L445.62,68.55 L445.62,68.80 L445.62,69.05 L445.62,69.30 L445.62,69.55 L445.62,69.80 L445.62,70.05 L445.62,70.30 L445.62,70.55 L445.62,70.80 L445.62,71.05 L445.62,71.30 L445.62,71.55 L445.62,71.80 L445.62,72.05 L445.63,72.30 L445.63,72.55 L445.63,72.80 L445.63,73.05 L445.63,73.30 L445.63,73.55 L445.63,73.80 L445.63,74.05 L445.63,74.30 L445.63,74.55 L445.63,74.80 L445.63,75.05 L445.64,75.30 L445.64,75.55 L445.64,75.80 L445.64,76.05 L445.64,76.30 L445.64,76.55 L445.65,76.80 L445.65,77.05 L445.65,77.30 L445.65,77.55 L445.66,77.80 L445.66,78.05 L445.67,78.30 L445.67,78.55 L445.68,78.80 L445.69,79.05 L445.69,79.30 L445.71,79.55 L445.72,79.80 L445.74,80.05 L445.77,80.30 L445.80,80.55 L445.85,80.80 L445.93,81.05 L446.05,81.30 L446.12,81.40 L446.26,81.55 L446.50,81.73 L446.63,81.80 L447.05,81.98 L447.26,82.05 L447.72,82.20 L447.96,82.30 L448.05,82.40 L447.85,82.55 L447.72,82.60 L447.12,82.80 L447.06,82.82 L446.55,83.05 L446.52,83.07 L446.23,83.30 L446.14,83.40 L446.04,83.55 L445.94,83.80 L445.87,84.05 L445.83,84.30 L445.80,84.55 L445.78,84.80 L445.77,85.05 L445.77,85.30 L445.77,85.55 L445.77,85.80 L445.78,86.05 L445.79,86.30 L445.81,86.55 L445.84,86.80 L445.88,87.05 L445.95,87.30 L446.06,87.55 L446.09,87.60 L446.25,87.80 L446.40,87.93 L446.58,88.05 L446.84,88.18 L447.13,88.30 L447.37,88.40 L447.62,88.55 L447.64,88.60 L447.39,88.80 L446.88,89.02 L446.82,89.05 L446.46,89.27 L446.43,89.30 L446.23,89.55 L446.20,89.60 L446.14,89.80 L446.12,90.05 L446.17,90.30 L446.21,90.40 L446.30,90.55 L446.48,90.73 L446.57,90.80 L446.90,90.98 L447.06,91.05 L447.42,91.20 L447.60,91.30 L447.67,91.40 L447.51,91.55 L447.41,91.60 L446.93,91.80 L446.88,91.82 L446.47,92.05 L446.45,92.07 L446.22,92.30 L446.15,92.40 L446.07,92.55 L445.99,92.80 L445.94,93.05 L445.91,93.30 L445.89,93.55 L445.88,93.80 L445.88,94.05 L445.88,94.30 L445.89,94.55 L445.90,94.80 L445.92,95.05 L445.94,95.30 L445.96,95.55 L445.99,95.80 L446.02,96.05 L446.06,96.30 L446.11,96.55 L446.17,96.80 L446.25,97.05 L446.34,97.30 L446.46,97.55 L446.60,97.80 L446.80,98.05 L447.05,98.30 L447.40,98.55 L447.90,98.80 L448.64,99.05 L449.79,99.30 L451.72,99.55 L455.24,99.80 L462.25,100.05 L463.06,100.07 L474.20,100.27 L476.36,100.30 L487.02,100.44 L492.90,100.55 L493.64,100.60 L487.02,100.76 L484.04,100.80 L474.20,100.93 L466.83,101.05 L463.06,101.13 L457.46,101.30 L455.24,101.40 L452.87,101.55 L450.44,101.80 L449.04,102.05 L448.16,102.30 L447.58,102.55 L447.18,102.80 L446.89,103.05 L446.68,103.30 L446.52,103.55 L446.39,103.80 L446.29,104.05 L446.21,104.30 L446.14,104.55 L446.09,104.80 L446.04,105.05 L446.01,105.30 L445.98,105.55 L445.95,105.80 L445.93,106.05 L445.91,106.30 L445.89,106.55 L445.88,106.80 L445.86,107.05 L445.85,107.30 L445.85,107.55 L445.84,107.80 L445.84,108.05 L445.83,108.30 L445.83,108.55 L445.83,108.80 L445.83,109.05 L445.83,109.30 L445.83,109.55 L445.84,109.80 L445.84,110.05 L445.85,110.30 L445.86,110.55 L445.87,110.80 L445.88,111.05 L445.90,111.30 L445.92,111.55 L445.94,111.80 L445.97,112.05 L446.00,112.30 L446.04,112.55 L446.09,112.80 L446.15,113.05 L446.23,113.30 L446.33,113.55 L446.46,113.80 L446.63,114.05 L446.86,114.30 L447.18,114.55 L447.65,114.80 L448.37,115.05 L449.55,115.30 L451.08,115.50 L451.60,115.55 L455.42,115.80 L461.83,116.03 L462.55,116.05 L469.02,116.22 L471.49,116.30 L472.76,116.40 L470.05,116.55 L469.02,116.58 L461.48,116.78 L460.80,116.80 L455.42,117.00 L454.44,117.05 L451.08,117.30 L449.26,117.55 L448.20,117.80 L447.54,118.05 L447.10,118.30 L446.80,118.55 L446.58,118.80 L446.42,119.05 L446.30,119.30 L446.21,119.55 L446.13,119.80 L446.07,120.05 L446.02,120.30 L445.98,120.55 L445.95,120.80 L445.92,121.05 L445.90,121.30 L445.88,121.55 L445.86,121.80 L445.85,122.05 L445.83,122.30 L445.82,122.55 L445.82,122.80 L445.81,123.05 L445.80,123.30 L445.80,123.55 L445.79,123.80 L445.79,124.05 L445.79,124.30 L445.78,124.55 L445.78,124.80 L445.78,125.05 L445.78,125.30 L445.79,125.55 L445.79,125.80 L445.79,126.05 L445.79,126.30 L445.80,126.55 L445.81,126.80 L445.81,127.05 L445.82,127.30 L445.83,127.55 L445.84,127.80 L445.85,128.05 L445.87,128.30 L445.89,128.55 L445.91,128.80 L445.93,129.05 L445.96,129.30 L446.00,129.55 L446.05,129.80 L446.11,130.05 L446.20,130.30 L446.31,130.55 L446.49,130.80 L446.69,131.00 L446.76,131.05 L447.21,131.30 L447.28,131.33 L447.99,131.55 L448.11,131.58 L449.11,131.80 L449.63,132.00 L449.62,132.05 L449.24,132.20 L448.84,132.30 L448.39,132.42 L448.00,132.55 L447.75,132.67 L447.57,132.80 L447.45,133.00 L447.44,133.05 L447.52,133.30 L447.78,133.55 L448.25,133.80 L449.03,134.05 L450.35,134.30 L452.08,134.50 L452.67,134.55 L457.02,134.80 L464.33,135.03 L465.15,135.05 L472.54,135.22 L475.35,135.30 L476.81,135.40 L473.72,135.55 L472.55,135.58 L463.97,135.78 L463.19,135.80 L457.07,136.00 L455.97,136.05 L452.17,136.30 L450.13,136.55 L448.97,136.80 L448.29,137.05 L447.87,137.30 L447.64,137.55 L447.55,137.80 L447.57,138.05 L447.73,138.30 L448.06,138.55 L448.65,138.80 L449.70,139.05 L450.70,139.20 L451.61,139.30 L454.35,139.50 L455.29,139.55 L459.50,139.72 L462.01,139.80 L465.93,139.92 L468.83,140.05 L469.11,140.10 L465.89,140.28 L465.26,140.30 L459.71,140.47 L457.46,140.55 L454.20,140.70 L452.62,140.80 L450.46,141.00 L450.07,141.05 L448.66,141.30 L447.83,141.55 L447.29,141.80 L446.94,142.05 L446.68,142.30 L446.50,142.55 L446.36,142.80 L446.25,143.05 L446.17,143.30 L446.10,143.55 L446.04,143.80 L446.00,144.05 L445.96,144.30 L445.93,144.55 L445.90,144.80 L445.87,145.05 L445.85,145.30 L445.83,145.55 L445.82,145.80 L445.80,146.05 L445.79,146.30 L445.78,146.55 L445.77,146.80 L445.76,147.05 L445.75,147.30 L445.74,147.55 L445.73,147.80 L445.73,148.05 L445.72,148.30 L445.71,148.55 L445.71,148.80 L445.70,149.05 L445.70,149.30 L445.70,149.55 L445.69,149.80 L445.69,150.05 L445.68,150.30 L445.68,150.55 L445.68,150.80 L445.68,151.05 L445.67,151.30 L445.67,151.55 L445.67,151.80 L445.67,152.05 L445.66,152.30 L445.66,152.55 L445.66,152.80 L445.66,153.05 L445.66,153.30 L445.65,153.55 L445.65,153.80 L445.65,154.05 L445.65,154.30 L445.65,154.55 L445.65,154.80 L445.65,155.05 L445.64,155.30 L445.64,155.55 L445.64,155.80 L445.64,156.05 L445.64,156.30 L445.64,156.55 L445.64,156.80 L445.64,157.05 L445.64,157.30 L445.64,157.55 L445.63,157.80 L445.63,158.05 L445.63,158.30 L445.63,158.55 L445.63,158.80 L445.63,159.05 L445.63,159.30 L445.63,159.55 L445.63,159.80 L445.63,160.05 L445.63,160.30 L445.63,160.55 L445.63,160.80 L445.63,161.05 L445.63,161.30 L445.63,161.55 L445.63,161.80 L445.62,162.05 L445.62,162.30 L445.62,162.55 L445.62,162.80 L445.62,163.05 L445.62,163.30 L445.62,163.55 L445.62,163.80 L445.62,164.05 L445.62,164.30 L445.62,164.55 L445.62,164.80 L445.62,165.05 L445.62,165.30 L445.62,165.55 L445.62,165.80 L445.62,166.05 L445.62,166.30 L445.62,166.55 L445.62,166.80 L445.62,167.05 L445.62,167.30 L445.62,167.55 L445.62,167.80 L445.62,168.05 L445.62,168.30 L445.62,168.55 L445.62,168.80 L445.62,169.05 L445.62,169.30 L445.62,169.55 L445.62,169.80 L445.61,170.05 L445.61,170.30 L445.61,170.55 L445.61,170.80 L445.61,171.05 L445.61,171.30 L445.61,171.55 L445.61,171.80 L445.61,172.05 L445.61,172.30 L445.61,172.55 L445.61,172.80 L445.61,173.05 L445.61,173.30 L445.61,173.55 L445.61,173.80 L445.61,174.05 L445.61,174.30 L445.61,174.55 L445.61,174.80 L445.61,175.05 L445.61,175.30 L445.61,175.55 L445.61,175.80 L445.61,176.05 L445.61,176.30 L445.61,176.55 L445.61,176.80" stroke="#333" stroke-width="1.1" fill="none" stroke-linejoin="round"/>
<rect x="285.6" y="16.6" width="212.59999999999997" height="160.6" fill="none" stroke="#000" stroke-width="1.3"/>
<path d="M289.5,16.9 L319.7,16.9" stroke="#cc1a1a" stroke-width="1.5"/>
<path d="M394.8,16.9 L426.3,16.9" stroke="#ee1111" stroke-width="1.5"/>
<path d="M285.6,26.637500000000003 L288.8,26.637500000000003" stroke="#000" stroke-width="1"/>
<path d="M285.6,51.73125 L287.8,51.73125" stroke="#000" stroke-width="1"/>
<path d="M285.6,76.825 L288.8,76.825" stroke="#000" stroke-width="1"/>
<path d="M285.6,101.91874999999999 L287.8,101.91874999999999" stroke="#000" stroke-width="1"/>
<path d="M285.6,127.01249999999999 L288.8,127.01249999999999" stroke="#000" stroke-width="1"/>
<path d="M285.6,152.10625 L287.8,152.10625" stroke="#000" stroke-width="1"/>
<text transform="translate(272.3,25.8) rotate(90)" font-size="11.7" text-anchor="middle" fill="#000" >500</text>
<text transform="translate(272.3,76.3) rotate(90)" font-size="11.7" text-anchor="middle" fill="#000" >1000</text>
<text transform="translate(272.3,126.6) rotate(90)" font-size="11.7" text-anchor="middle" fill="#000" >1500</text>
<text transform="translate(272.3,173.7) rotate(90)" font-size="11.7" text-anchor="middle" fill="#000" >2000</text>
<text transform="translate(262.3,101.9) rotate(90)" font-size="11.5" text-anchor="middle" fill="#000" >Raman Shift (cm<tspan font-size="7" dy="-4">-1</tspan><tspan dy="4">)</tspan></text>
<text x="330.5" y="12.3" font-size="11.45" text-anchor="start" fill="#000">Raman Intensity (a.u.)</text>
<text transform="translate(488.2,5.7) rotate(90)" font-size="14.5" text-anchor="middle" fill="#000" style="stroke-width:0">A</text>
<text transform="translate(300.6,163.6) rotate(90)" font-size="12.5" text-anchor="start" fill="#000" style="stroke-width:0.1px">iv</text>
<text transform="translate(346.1,163.6) rotate(90)" font-size="12.5" text-anchor="start" fill="#000" style="stroke-width:0.1px">iii</text>
<text transform="translate(402.8,163.6) rotate(90)" font-size="12.5" text-anchor="start" fill="#000" style="stroke-width:0.1px">ii</text>
<text transform="translate(455,163.6) rotate(90)" font-size="12.5" text-anchor="start" fill="#000" style="stroke-width:0.1px">i</text>
<rect x="286.6" y="222.5" width="209.39999999999998" height="2.8" fill="#dfdfdf"/>
<rect x="286.6" y="245.9" width="209.39999999999998" height="2.8" fill="#dfdfdf"/>
<rect x="286.6" y="271.40000000000003" width="209.39999999999998" height="2.8" fill="#dfdfdf"/>
<rect x="286.6" y="288.1" width="209.39999999999998" height="2.8" fill="#dfdfdf"/>
<rect x="286.6" y="296.40000000000003" width="209.39999999999998" height="2.8" fill="#dfdfdf"/>
<rect x="286.6" y="310.20000000000005" width="209.39999999999998" height="2.8" fill="#dfdfdf"/>
<rect x="286.6" y="317.90000000000003" width="209.39999999999998" height="2.8" fill="#dfdfdf"/>
<rect x="286.6" y="326.40000000000003" width="209.39999999999998" height="2.8" fill="#dfdfdf"/>
<rect x="284.0" y="213.6" width="4" height="158.79999999999998" fill="#fff"/>
<rect x="287.4" y="213.6" width="4" height="158.79999999999998" fill="#fff"/>
<rect x="336.4" y="213.6" width="4" height="158.79999999999998" fill="#fff"/>
<rect x="392.1" y="213.6" width="4" height="158.79999999999998" fill="#fff"/>
<rect x="443.1" y="213.6" width="4" height="158.79999999999998" fill="#fff"/>
<path d="M289.5,212.5 L289.5,373" stroke="#2a2a9c" stroke-width="1.4" fill="none"/>
<path d="M289.5,220.5 L291.2,220.5" stroke="#fff" stroke-width="2.6" fill="none"/>
<path d="M289.5,224.5 L293.3,224.5" stroke="#fff" stroke-width="2.6" fill="none"/>
<path d="M289.5,248.5 L314,248.5" stroke="#fff" stroke-width="2.6" fill="none"/>
<path d="M289.5,273.5 L296.4,273.5" stroke="#fff" stroke-width="2.6" fill="none"/>
<path d="M289.5,288.5 L293,288.5" stroke="#fff" stroke-width="2.6" fill="none"/>
<path d="M289.5,291.5 L296,291.5" stroke="#fff" stroke-width="2.6" fill="none"/>
<path d="M289.5,299.5 L294.8,299.5" stroke="#fff" stroke-width="2.6" fill="none"/>
<path d="M289.5,313.5 L334.2,313.5" stroke="#fff" stroke-width="2.6" fill="none"/>
<path d="M289.5,321.5 L294.8,321.5" stroke="#fff" stroke-width="2.6" fill="none"/>
<path d="M289.5,324.5 L291.5,324.5" stroke="#fff" stroke-width="2.6" fill="none"/>
<path d="M289.5,329.5 L301.6,329.5" stroke="#fff" stroke-width="2.6" fill="none"/>
<path d="M289.5,336.5 L291,336.5" stroke="#fff" stroke-width="2.6" fill="none"/>
<path d="M289.5,344.5 L297.1,344.5" stroke="#fff" stroke-width="2.6" fill="none"/>
<path d="M289.5,220.5 L291.2,220.5" stroke="#2a2a9c" stroke-width="1.4" fill="none"/>
<path d="M289.5,224.5 L293.3,224.5" stroke="#2a2a9c" stroke-width="1.4" fill="none"/>
<path d="M289.5,248.5 L314,248.5" stroke="#2a2a9c" stroke-width="1.4" fill="none"/>
<path d="M289.5,273.5 L296.4,273.5" stroke="#2a2a9c" stroke-width="1.4" fill="none"/>
<path d="M289.5,288.5 L293,288.5" stroke="#2a2a9c" stroke-width="1.4" fill="none"/>
<path d="M289.5,291.5 L296,291.5" stroke="#2a2a9c" stroke-width="1.4" fill="none"/>
<path d="M289.5,299.5 L294.8,299.5" stroke="#2a2a9c" stroke-width="1.4" fill="none"/>
<path d="M289.5,313.5 L334.2,313.5" stroke="#2a2a9c" stroke-width="1.4" fill="none"/>
<path d="M289.5,321.5 L294.8,321.5" stroke="#2a2a9c" stroke-width="1.4" fill="none"/>
<path d="M289.5,324.5 L291.5,324.5" stroke="#2a2a9c" stroke-width="1.4" fill="none"/>
<path d="M289.5,329.5 L301.6,329.5" stroke="#2a2a9c" stroke-width="1.4" fill="none"/>
<path d="M289.5,336.5 L291,336.5" stroke="#2a2a9c" stroke-width="1.4" fill="none"/>
<path d="M289.5,344.5 L297.1,344.5" stroke="#2a2a9c" stroke-width="1.4" fill="none"/>
<path d="M338.5,212.5 L338.5,373" stroke="#6a6a6a" stroke-width="1.4" fill="none"/>
<path d="M338.5,247.5 L342,247.5" stroke="#fff" stroke-width="2.6" fill="none"/>
<path d="M338.5,273.5 L341,273.5" stroke="#fff" stroke-width="2.6" fill="none"/>
<path d="M338.5,290.5 L341,290.5" stroke="#fff" stroke-width="2.6" fill="none"/>
<path d="M338.5,298.5 L341.5,298.5" stroke="#fff" stroke-width="2.6" fill="none"/>
<path d="M338.5,312.5 L386.8,312.5" stroke="#fff" stroke-width="2.6" fill="none"/>
<path d="M338.5,247.5 L342,247.5" stroke="#111" stroke-width="1.4" fill="none"/>
<path d="M338.5,273.5 L341,273.5" stroke="#111" stroke-width="1.4" fill="none"/>
<path d="M338.5,290.5 L341,290.5" stroke="#111" stroke-width="1.4" fill="none"/>
<path d="M338.5,298.5 L341.5,298.5" stroke="#111" stroke-width="1.4" fill="none"/>
<path d="M338.5,312.5 L386.8,312.5" stroke="#111" stroke-width="1.4" fill="none"/>
<path d="M343.6,320.5 L339.6,320.5 L339.6,328 L343.6,328" stroke="#111" stroke-width="1.3" fill="none"/>
<path d="M394.71,212.50 L394.82,213.50 L394.87,214.50 L395.00,215.50 L394.82,216.50 L394.98,217.50 L394.18,218.50 L394.58,219.50 L395.01,220.50 L394.75,221.50 L395.01,222.50 L394.99,223.50 L395.28,223.64 L395.83,223.76 L396.61,223.85 L397.55,223.93 L398.00,224.00 L397.55,224.07 L396.61,224.15 L395.83,224.24 L395.28,224.36 L394.99,224.50 L394.30,225.50 L394.59,226.50 L394.38,227.50 L394.65,228.50 L394.67,229.50 L394.17,230.50 L394.35,231.50 L394.41,232.50 L394.98,233.50 L394.84,234.50 L394.30,235.50 L394.87,236.50 L394.28,237.50 L394.71,238.50 L394.27,239.50 L394.16,240.50 L394.95,241.50 L394.36,242.50 L394.38,243.50 L395.09,244.50 L395.07,245.50 L395.18,246.50 L399.54,247.12 L403.29,247.21 L408.84,247.28 L415.47,247.34 L419.30,247.40 L415.47,247.46 L410.96,247.50 L408.84,247.52 L403.29,247.59 L399.54,247.68 L394.81,248.50 L395.13,249.50 L394.69,250.50 L394.79,251.50 L394.35,252.50 L395.01,253.50 L394.78,254.50 L395.03,255.50 L394.96,256.50 L394.43,257.50 L394.48,258.50 L394.30,259.50 L394.29,260.50 L394.21,261.50 L394.43,262.50 L394.70,263.50 L394.16,264.50 L394.77,265.50 L394.46,266.50 L394.44,267.50 L394.90,268.50 L394.60,269.50 L394.46,270.50 L394.65,271.50 L394.94,272.50 L395.68,272.84 L396.55,272.96 L397.79,273.05 L399.29,273.13 L400.00,273.20 L399.29,273.27 L397.79,273.35 L396.55,273.44 L396.03,273.50 L395.68,273.56 L394.89,274.50 L394.24,275.50 L395.05,276.50 L394.18,277.50 L394.83,278.50 L394.92,279.50 L394.17,280.50 L394.87,281.50 L394.49,282.50 L394.68,283.50 L394.17,284.50 L394.20,285.50 L394.33,286.50 L395.04,287.50 L394.41,288.50 L395.27,289.50 L395.76,289.64 L396.69,289.76 L398.03,289.85 L399.64,289.93 L400.40,290.00 L399.64,290.07 L398.03,290.15 L396.69,290.24 L395.76,290.36 L395.27,290.50 L394.92,291.50 L395.02,292.50 L395.02,293.50 L394.48,294.50 L394.49,295.50 L394.65,296.50 L394.72,297.50 L395.09,297.94 L395.47,298.06 L396.02,298.15 L396.69,298.23 L397.01,298.30 L396.69,298.37 L396.02,298.45 L395.68,298.50 L395.47,298.54 L395.09,298.66 L394.91,299.50 L394.27,300.50 L394.84,301.50 L394.88,302.50 L394.94,303.50 L394.20,304.50 L395.02,305.50 L394.26,306.50 L394.49,307.50 L394.75,308.50 L395.05,309.50 L394.59,310.50 L395.33,311.50 L396.96,312.50 L403.72,312.82 L410.65,312.91 L420.89,312.98 L433.13,313.04 L440.20,313.10 L433.13,313.16 L420.89,313.22 L410.65,313.29 L403.72,313.38 L399.58,313.50 L395.10,314.50 L394.59,315.50 L394.52,316.50 L394.37,317.50 L394.27,318.50 L394.36,319.50 L394.90,320.50 L395.50,320.84 L396.21,320.96 L397.22,321.05 L398.44,321.13 L399.02,321.20 L398.44,321.27 L397.22,321.35 L396.20,321.44 L395.79,321.50 L395.50,321.56 L394.87,322.50 L395.10,323.50 L394.34,324.50 L394.24,325.50 L395.12,326.50 L394.89,327.50 L396.85,328.34 L398.64,328.46 L399.62,328.50 L401.22,328.55 L404.34,328.63 L405.81,328.70 L404.34,328.77 L401.22,328.85 L398.64,328.94 L396.85,329.06 L395.15,329.50 L394.63,330.50 L394.41,331.50 L394.71,332.50 L394.91,333.50 L394.58,334.50 L394.54,335.50 L394.21,336.50 L394.98,337.50 L394.19,338.50 L394.61,339.50 L394.92,340.50 L394.29,341.50 L394.88,342.50 L395.14,343.50 L396.08,343.72 L397.21,343.81 L398.87,343.88 L400.85,343.94 L402.00,344.00 L400.85,344.06 L398.87,344.12 L397.21,344.19 L396.08,344.28 L395.14,344.50 L395.07,345.50 L394.74,346.50 L394.87,347.50 L394.26,348.50 L394.55,349.50 L394.29,350.50 L394.91,351.50 L394.42,352.50 L394.56,353.50 L395.05,354.50 L394.92,355.50 L395.03,356.50 L394.56,357.50 L394.59,358.50 L394.81,359.50 L394.58,360.50 L394.41,361.50 L394.51,362.50 L394.28,363.50 L394.49,364.50 L395.04,365.50 L395.01,366.50 L394.72,367.50 L394.60,368.50 L394.46,369.50 L394.23,370.50 L394.40,371.50 L394.85,372.50" stroke="#fff" stroke-width="2.6" fill="none" stroke-linejoin="round"/>
<path d="M394.71,212.50 L394.82,213.50 L394.87,214.50 L395.00,215.50 L394.82,216.50 L394.98,217.50 L394.18,218.50 L394.58,219.50 L395.01,220.50 L394.75,221.50 L395.01,222.50 L394.99,223.50 L395.28,223.64 L395.83,223.76 L396.61,223.85 L397.55,223.93 L398.00,224.00 L397.55,224.07 L396.61,224.15 L395.83,224.24 L395.28,224.36 L394.99,224.50 L394.30,225.50 L394.59,226.50 L394.38,227.50 L394.65,228.50 L394.67,229.50 L394.17,230.50 L394.35,231.50 L394.41,232.50 L394.98,233.50 L394.84,234.50 L394.30,235.50 L394.87,236.50 L394.28,237.50 L394.71,238.50 L394.27,239.50 L394.16,240.50 L394.95,241.50 L394.36,242.50 L394.38,243.50 L395.09,244.50 L395.07,245.50 L395.18,246.50 L399.54,247.12 L403.29,247.21 L408.84,247.28 L415.47,247.34 L419.30,247.40 L415.47,247.46 L410.96,247.50 L408.84,247.52 L403.29,247.59 L399.54,247.68 L394.81,248.50 L395.13,249.50 L394.69,250.50 L394.79,251.50 L394.35,252.50 L395.01,253.50 L394.78,254.50 L395.03,255.50 L394.96,256.50 L394.43,257.50 L394.48,258.50 L394.30,259.50 L394.29,260.50 L394.21,261.50 L394.43,262.50 L394.70,263.50 L394.16,264.50 L394.77,265.50 L394.46,266.50 L394.44,267.50 L394.90,268.50 L394.60,269.50 L394.46,270.50 L394.65,271.50 L394.94,272.50 L395.68,272.84 L396.55,272.96 L397.79,273.05 L399.29,273.13 L400.00,273.20 L399.29,273.27 L397.79,273.35 L396.55,273.44 L396.03,273.50 L395.68,273.56 L394.89,274.50 L394.24,275.50 L395.05,276.50 L394.18,277.50 L394.83,278.50 L394.92,279.50 L394.17,280.50 L394.87,281.50 L394.49,282.50 L394.68,283.50 L394.17,284.50 L394.20,285.50 L394.33,286.50 L395.04,287.50 L394.41,288.50 L395.27,289.50 L395.76,289.64 L396.69,289.76 L398.03,289.85 L399.64,289.93 L400.40,290.00 L399.64,290.07 L398.03,290.15 L396.69,290.24 L395.76,290.36 L395.27,290.50 L394.92,291.50 L395.02,292.50 L395.02,293.50 L394.48,294.50 L394.49,295.50 L394.65,296.50 L394.72,297.50 L395.09,297.94 L395.47,298.06 L396.02,298.15 L396.69,298.23 L397.01,298.30 L396.69,298.37 L396.02,298.45 L395.68,298.50 L395.47,298.54 L395.09,298.66 L394.91,299.50 L394.27,300.50 L394.84,301.50 L394.88,302.50 L394.94,303.50 L394.20,304.50 L395.02,305.50 L394.26,306.50 L394.49,307.50 L394.75,308.50 L395.05,309.50 L394.59,310.50 L395.33,311.50 L396.96,312.50 L403.72,312.82 L410.65,312.91 L420.89,312.98 L433.13,313.04 L440.20,313.10 L433.13,313.16 L420.89,313.22 L410.65,313.29 L403.72,313.38 L399.58,313.50 L395.10,314.50 L394.59,315.50 L394.52,316.50 L394.37,317.50 L394.27,318.50 L394.36,319.50 L394.90,320.50 L395.50,320.84 L396.21,320.96 L397.22,321.05 L398.44,321.13 L399.02,321.20 L398.44,321.27 L397.22,321.35 L396.20,321.44 L395.79,321.50 L395.50,321.56 L394.87,322.50 L395.10,323.50 L394.34,324.50 L394.24,325.50 L395.12,326.50 L394.89,327.50 L396.85,328.34 L398.64,328.46 L399.62,328.50 L401.22,328.55 L404.34,328.63 L405.81,328.70 L404.34,328.77 L401.22,328.85 L398.64,328.94 L396.85,329.06 L395.15,329.50 L394.63,330.50 L394.41,331.50 L394.71,332.50 L394.91,333.50 L394.58,334.50 L394.54,335.50 L394.21,336.50 L394.98,337.50 L394.19,338.50 L394.61,339.50 L394.92,340.50 L394.29,341.50 L394.88,342.50 L395.14,343.50 L396.08,343.72 L397.21,343.81 L398.87,343.88 L400.85,343.94 L402.00,344.00 L400.85,344.06 L398.87,344.12 L397.21,344.19 L396.08,344.28 L395.14,344.50 L395.07,345.50 L394.74,346.50 L394.87,347.50 L394.26,348.50 L394.55,349.50 L394.29,350.50 L394.91,351.50 L394.42,352.50 L394.56,353.50 L395.05,354.50 L394.92,355.50 L395.03,356.50 L394.56,357.50 L394.59,358.50 L394.81,359.50 L394.58,360.50 L394.41,361.50 L394.51,362.50 L394.28,363.50 L394.49,364.50 L395.04,365.50 L395.01,366.50 L394.72,367.50 L394.60,368.50 L394.46,369.50 L394.23,370.50 L394.40,371.50 L394.85,372.50" stroke="#1515ee" stroke-width="1.4" fill="none" stroke-linejoin="round"/>
<path d="M445.60,212.50 L445.60,212.75 L445.60,213.00 L445.60,213.25 L445.60,213.50 L445.60,213.75 L445.60,214.00 L445.60,214.25 L445.60,214.50 L445.60,214.75 L445.60,215.00 L445.60,215.25 L445.60,215.50 L445.60,215.75 L445.60,216.00 L445.60,216.25 L445.60,216.50 L445.60,216.75 L445.60,217.00 L445.60,217.25 L445.60,217.50 L445.60,217.75 L445.60,218.00 L445.60,218.25 L445.60,218.50 L445.60,218.75 L445.60,219.00 L445.60,219.25 L445.60,219.50 L445.60,219.75 L445.60,220.00 L445.60,220.25 L445.60,220.50 L445.60,220.75 L445.60,221.00 L445.60,221.25 L445.60,221.50 L445.60,221.75 L445.60,222.00 L445.60,222.25 L445.60,222.50 L445.60,222.75 L445.60,223.00 L445.60,223.25 L445.60,223.50 L445.60,223.75 L445.60,224.00 L445.60,224.25 L445.60,224.50 L445.60,224.75 L445.60,225.00 L445.60,225.25 L445.60,225.50 L445.60,225.75 L445.60,226.00 L445.60,226.25 L445.60,226.50 L445.60,226.75 L445.60,227.00 L445.60,227.25 L445.60,227.50 L445.60,227.75 L445.60,228.00 L445.60,228.25 L445.60,228.50 L445.60,228.75 L445.60,229.00 L445.60,229.25 L445.60,229.50 L445.60,229.75 L445.60,230.00 L445.60,230.25 L445.60,230.50 L445.60,230.75 L445.60,231.00 L445.60,231.25 L445.60,231.50 L445.60,231.75 L445.60,232.00 L445.60,232.25 L445.60,232.50 L445.61,232.75 L445.61,233.00 L445.61,233.25 L445.61,233.50 L445.61,233.75 L445.61,234.00 L445.61,234.25 L445.61,234.50 L445.61,234.75 L445.61,235.00 L445.61,235.25 L445.61,235.50 L445.61,235.75 L445.61,236.00 L445.61,236.25 L445.61,236.50 L445.61,236.75 L445.61,237.00 L445.61,237.25 L445.61,237.50 L445.61,237.75 L445.61,238.00 L445.61,238.25 L445.61,238.50 L445.61,238.75 L445.61,239.00 L445.61,239.25 L445.61,239.50 L445.61,239.75 L445.61,240.00 L445.61,240.25 L445.62,240.50 L445.62,240.75 L445.62,241.00 L445.62,241.25 L445.62,241.50 L445.62,241.75 L445.62,242.00 L445.62,242.25 L445.63,242.50 L445.63,242.75 L445.63,243.00 L445.64,243.25 L445.64,243.50 L445.65,243.75 L445.65,244.00 L445.66,244.25 L445.67,244.50 L445.68,244.75 L445.70,245.00 L445.72,245.25 L445.74,245.50 L445.78,245.75 L445.84,246.00 L445.93,246.25 L446.08,246.50 L446.34,246.75 L446.46,246.83 L446.80,247.00 L447.01,247.08 L447.52,247.25 L447.67,247.30 L448.00,247.50 L447.67,247.70 L447.52,247.75 L447.01,247.92 L446.80,248.00 L446.46,248.17 L446.34,248.25 L446.08,248.50 L445.94,248.75 L445.84,249.00 L445.79,249.25 L445.75,249.50 L445.72,249.75 L445.70,250.00 L445.68,250.25 L445.67,250.50 L445.66,250.75 L445.65,251.00 L445.65,251.25 L445.64,251.50 L445.64,251.75 L445.63,252.00 L445.63,252.25 L445.63,252.50 L445.63,252.75 L445.62,253.00 L445.62,253.25 L445.62,253.50 L445.62,253.75 L445.62,254.00 L445.62,254.25 L445.62,254.50 L445.62,254.75 L445.62,255.00 L445.62,255.25 L445.62,255.50 L445.61,255.75 L445.61,256.00 L445.61,256.25 L445.61,256.50 L445.61,256.75 L445.61,257.00 L445.61,257.25 L445.61,257.50 L445.61,257.75 L445.61,258.00 L445.61,258.25 L445.61,258.50 L445.61,258.75 L445.61,259.00 L445.61,259.25 L445.61,259.50 L445.61,259.75 L445.61,260.00 L445.61,260.25 L445.61,260.50 L445.61,260.75 L445.61,261.00 L445.61,261.25 L445.61,261.50 L445.61,261.75 L445.61,262.00 L445.61,262.25 L445.61,262.50 L445.61,262.75 L445.61,263.00 L445.61,263.25 L445.61,263.50 L445.61,263.75 L445.62,264.00 L445.62,264.25 L445.62,264.50 L445.62,264.75 L445.62,265.00 L445.62,265.25 L445.62,265.50 L445.62,265.75 L445.62,266.00 L445.62,266.25 L445.62,266.50 L445.62,266.75 L445.62,267.00 L445.63,267.25 L445.63,267.50 L445.63,267.75 L445.63,268.00 L445.63,268.25 L445.64,268.50 L445.64,268.75 L445.65,269.00 L445.65,269.25 L445.66,269.50 L445.66,269.75 L445.67,270.00 L445.69,270.25 L445.70,270.50 L445.72,270.75 L445.75,271.00 L445.79,271.25 L445.85,271.50 L445.94,271.75 L446.09,272.00 L446.35,272.25 L446.47,272.33 L446.81,272.50 L447.02,272.58 L447.53,272.75 L447.68,272.80 L448.01,273.00 L447.68,273.20 L447.53,273.25 L447.02,273.42 L446.81,273.50 L446.47,273.67 L446.35,273.75 L446.09,274.00 L445.94,274.25 L445.85,274.50 L445.79,274.75 L445.75,275.00 L445.73,275.25 L445.70,275.50 L445.69,275.75 L445.68,276.00 L445.67,276.25 L445.66,276.50 L445.66,276.75 L445.65,277.00 L445.65,277.25 L445.64,277.50 L445.64,277.75 L445.64,278.00 L445.64,278.25 L445.64,278.50 L445.63,278.75 L445.63,279.00 L445.63,279.25 L445.63,279.50 L445.63,279.75 L445.63,280.00 L445.63,280.25 L445.63,280.50 L445.63,280.75 L445.63,281.00 L445.63,281.25 L445.63,281.50 L445.63,281.75 L445.63,282.00 L445.63,282.25 L445.63,282.50 L445.63,282.75 L445.64,283.00 L445.64,283.25 L445.64,283.50 L445.64,283.75 L445.64,284.00 L445.64,284.25 L445.65,284.50 L445.65,284.75 L445.65,285.00 L445.66,285.25 L445.66,285.50 L445.67,285.75 L445.67,286.00 L445.68,286.25 L445.69,286.50 L445.70,286.75 L445.71,287.00 L445.73,287.25 L445.75,287.50 L445.79,287.75 L445.83,288.00 L445.90,288.25 L446.00,288.50 L446.16,288.75 L446.21,288.80 L446.44,289.00 L446.67,289.13 L446.94,289.25 L447.33,289.38 L447.76,289.50 L448.13,289.60 L448.50,289.75 L448.53,289.80 L448.13,290.00 L447.33,290.22 L447.23,290.25 L446.67,290.47 L446.61,290.50 L446.26,290.75 L446.22,290.80 L446.07,291.00 L445.95,291.25 L445.87,291.50 L445.82,291.75 L445.79,292.00 L445.76,292.25 L445.74,292.50 L445.73,292.75 L445.72,293.00 L445.72,293.25 L445.71,293.50 L445.71,293.75 L445.71,294.00 L445.71,294.25 L445.72,294.50 L445.73,294.75 L445.74,295.00 L445.75,295.25 L445.77,295.50 L445.79,295.75 L445.82,296.00 L445.87,296.25 L445.94,296.50 L446.05,296.75 L446.23,297.00 L446.54,297.25 L446.69,297.33 L447.10,297.50 L447.35,297.58 L447.97,297.75 L448.15,297.80 L448.55,298.00 L448.15,298.20 L447.97,298.25 L447.36,298.42 L447.11,298.50 L446.69,298.67 L446.55,298.75 L446.24,299.00 L446.06,299.25 L445.95,299.50 L445.88,299.75 L445.83,300.00 L445.80,300.25 L445.78,300.50 L445.76,300.75 L445.75,301.00 L445.74,301.25 L445.74,301.50 L445.73,301.75 L445.73,302.00 L445.73,302.25 L445.73,302.50 L445.73,302.75 L445.73,303.00 L445.73,303.25 L445.73,303.50 L445.74,303.75 L445.74,304.00 L445.75,304.25 L445.76,304.50 L445.76,304.75 L445.77,305.00 L445.78,305.25 L445.79,305.50 L445.80,305.75 L445.82,306.00 L445.83,306.25 L445.85,306.50 L445.87,306.75 L445.90,307.00 L445.92,307.25 L445.96,307.50 L445.99,307.75 L446.04,308.00 L446.09,308.25 L446.15,308.50 L446.23,308.75 L446.32,309.00 L446.44,309.25 L446.59,309.50 L446.79,309.75 L447.05,310.00 L447.41,310.25 L447.91,310.50 L448.66,310.75 L449.83,311.00 L451.79,311.25 L455.36,311.50 L462.47,311.75 L463.30,311.77 L474.60,311.97 L476.79,312.00 L487.61,312.14 L493.58,312.25 L494.33,312.30 L487.61,312.46 L484.59,312.50 L474.60,312.63 L467.12,312.75 L463.30,312.83 L457.62,313.00 L455.37,313.10 L452.96,313.25 L450.50,313.50 L449.08,313.75 L448.19,314.00 L447.60,314.25 L447.20,314.50 L446.91,314.75 L446.69,315.00 L446.53,315.25 L446.40,315.50 L446.30,315.75 L446.23,316.00 L446.16,316.25 L446.11,316.50 L446.08,316.75 L446.05,317.00 L446.03,317.25 L446.01,317.50 L446.01,317.75 L446.01,318.00 L446.02,318.25 L446.05,318.50 L446.10,318.75 L446.18,319.00 L446.31,319.25 L446.52,319.50 L446.64,319.60 L446.89,319.75 L447.33,319.93 L447.56,320.00 L448.33,320.18 L448.70,320.25 L449.53,320.40 L449.97,320.50 L450.14,320.60 L449.77,320.75 L449.53,320.80 L448.41,321.00 L448.31,321.02 L447.36,321.25 L447.30,321.27 L446.76,321.50 L446.60,321.60 L446.42,321.75 L446.22,322.00 L446.09,322.25 L446.00,322.50 L445.94,322.75 L445.90,323.00 L445.87,323.25 L445.85,323.50 L445.84,323.75 L445.83,324.00 L445.82,324.25 L445.82,324.50 L445.83,324.75 L445.84,325.00 L445.86,325.25 L445.89,325.50 L445.93,325.75 L446.00,326.00 L446.09,326.25 L446.24,326.50 L446.48,326.75 L446.55,326.80 L446.90,327.00 L447.24,327.13 L447.65,327.25 L448.24,327.38 L448.89,327.50 L449.45,327.60 L450.01,327.75 L450.06,327.80 L449.45,328.00 L448.23,328.22 L448.08,328.25 L447.22,328.47 L447.14,328.50 L446.60,328.75 L446.53,328.80 L446.30,329.00 L446.11,329.25 L445.99,329.50 L445.91,329.75 L445.85,330.00 L445.81,330.25 L445.78,330.50 L445.76,330.75 L445.74,331.00 L445.72,331.25 L445.71,331.50 L445.70,331.75 L445.69,332.00 L445.68,332.25 L445.68,332.50 L445.67,332.75 L445.67,333.00 L445.66,333.25 L445.66,333.50 L445.66,333.75 L445.65,334.00 L445.65,334.25 L445.65,334.50 L445.64,334.75 L445.64,335.00 L445.64,335.25 L445.64,335.50 L445.64,335.75 L445.64,336.00 L445.63,336.25 L445.63,336.50 L445.63,336.75 L445.63,337.00 L445.63,337.25 L445.63,337.50 L445.63,337.75 L445.63,338.00 L445.63,338.25 L445.63,338.50 L445.62,338.75 L445.62,339.00 L445.62,339.25 L445.62,339.50 L445.62,339.75 L445.62,340.00 L445.62,340.25 L445.62,340.50 L445.62,340.75 L445.62,341.00 L445.62,341.25 L445.62,341.50 L445.62,341.75 L445.62,342.00 L445.62,342.25 L445.62,342.50 L445.62,342.75 L445.62,343.00 L445.62,343.25 L445.62,343.50 L445.62,343.75 L445.61,344.00 L445.61,344.25 L445.61,344.50 L445.61,344.75 L445.61,345.00 L445.61,345.25 L445.61,345.50 L445.61,345.75 L445.61,346.00 L445.61,346.25 L445.61,346.50 L445.61,346.75 L445.61,347.00 L445.61,347.25 L445.61,347.50 L445.61,347.75 L445.61,348.00 L445.61,348.25 L445.61,348.50 L445.61,348.75 L445.61,349.00 L445.61,349.25 L445.61,349.50 L445.61,349.75 L445.61,350.00 L445.61,350.25 L445.61,350.50 L445.61,350.75 L445.61,351.00 L445.61,351.25 L445.61,351.50 L445.61,351.75 L445.61,352.00 L445.61,352.25 L445.61,352.50 L445.61,352.75 L445.61,353.00 L445.61,353.25 L445.61,353.50 L445.61,353.75 L445.61,354.00 L445.61,354.25 L445.61,354.50 L445.61,354.75 L445.61,355.00 L445.61,355.25 L445.61,355.50 L445.61,355.75 L445.61,356.00 L445.61,356.25 L445.61,356.50 L445.61,356.75 L445.61,357.00 L445.61,357.25 L445.61,357.50 L445.61,357.75 L445.61,358.00 L445.61,358.25 L445.61,358.50 L445.61,358.75 L445.61,359.00 L445.61,359.25 L445.61,359.50 L445.61,359.75 L445.61,360.00 L445.61,360.25 L445.61,360.50 L445.61,360.75 L445.61,361.00 L445.61,361.25 L445.61,361.50 L445.61,361.75 L445.61,362.00 L445.61,362.25 L445.61,362.50 L445.61,362.75 L445.60,363.00 L445.60,363.25 L445.60,363.50 L445.60,363.75 L445.60,364.00 L445.60,364.25 L445.60,364.50 L445.60,364.75 L445.60,365.00 L445.60,365.25 L445.60,365.50 L445.60,365.75 L445.60,366.00 L445.60,366.25 L445.60,366.50 L445.60,366.75 L445.60,367.00 L445.60,367.25 L445.60,367.50 L445.60,367.75 L445.60,368.00 L445.60,368.25 L445.60,368.50 L445.60,368.75 L445.60,369.00 L445.60,369.25 L445.60,369.50 L445.60,369.75 L445.60,370.00 L445.60,370.25 L445.60,370.50 L445.60,370.75 L445.60,371.00 L445.60,371.25 L445.60,371.50 L445.60,371.75 L445.60,372.00 L445.60,372.25 L445.60,372.50 L445.60,372.75 L445.60,373.00" stroke="#fff" stroke-width="2.6" fill="none" stroke-linejoin="round"/>
<path d="M445.60,212.50 L445.60,212.75 L445.60,213.00 L445.60,213.25 L445.60,213.50 L445.60,213.75 L445.60,214.00 L445.60,214.25 L445.60,214.50 L445.60,214.75 L445.60,215.00 L445.60,215.25 L445.60,215.50 L445.60,215.75 L445.60,216.00 L445.60,216.25 L445.60,216.50 L445.60,216.75 L445.60,217.00 L445.60,217.25 L445.60,217.50 L445.60,217.75 L445.60,218.00 L445.60,218.25 L445.60,218.50 L445.60,218.75 L445.60,219.00 L445.60,219.25 L445.60,219.50 L445.60,219.75 L445.60,220.00 L445.60,220.25 L445.60,220.50 L445.60,220.75 L445.60,221.00 L445.60,221.25 L445.60,221.50 L445.60,221.75 L445.60,222.00 L445.60,222.25 L445.60,222.50 L445.60,222.75 L445.60,223.00 L445.60,223.25 L445.60,223.50 L445.60,223.75 L445.60,224.00 L445.60,224.25 L445.60,224.50 L445.60,224.75 L445.60,225.00 L445.60,225.25 L445.60,225.50 L445.60,225.75 L445.60,226.00 L445.60,226.25 L445.60,226.50 L445.60,226.75 L445.60,227.00 L445.60,227.25 L445.60,227.50 L445.60,227.75 L445.60,228.00 L445.60,228.25 L445.60,228.50 L445.60,228.75 L445.60,229.00 L445.60,229.25 L445.60,229.50 L445.60,229.75 L445.60,230.00 L445.60,230.25 L445.60,230.50 L445.60,230.75 L445.60,231.00 L445.60,231.25 L445.60,231.50 L445.60,231.75 L445.60,232.00 L445.60,232.25 L445.60,232.50 L445.61,232.75 L445.61,233.00 L445.61,233.25 L445.61,233.50 L445.61,233.75 L445.61,234.00 L445.61,234.25 L445.61,234.50 L445.61,234.75 L445.61,235.00 L445.61,235.25 L445.61,235.50 L445.61,235.75 L445.61,236.00 L445.61,236.25 L445.61,236.50 L445.61,236.75 L445.61,237.00 L445.61,237.25 L445.61,237.50 L445.61,237.75 L445.61,238.00 L445.61,238.25 L445.61,238.50 L445.61,238.75 L445.61,239.00 L445.61,239.25 L445.61,239.50 L445.61,239.75 L445.61,240.00 L445.61,240.25 L445.62,240.50 L445.62,240.75 L445.62,241.00 L445.62,241.25 L445.62,241.50 L445.62,241.75 L445.62,242.00 L445.62,242.25 L445.63,242.50 L445.63,242.75 L445.63,243.00 L445.64,243.25 L445.64,243.50 L445.65,243.75 L445.65,244.00 L445.66,244.25 L445.67,244.50 L445.68,244.75 L445.70,245.00 L445.72,245.25 L445.74,245.50 L445.78,245.75 L445.84,246.00 L445.93,246.25 L446.08,246.50 L446.34,246.75 L446.46,246.83 L446.80,247.00 L447.01,247.08 L447.52,247.25 L447.67,247.30 L448.00,247.50 L447.67,247.70 L447.52,247.75 L447.01,247.92 L446.80,248.00 L446.46,248.17 L446.34,248.25 L446.08,248.50 L445.94,248.75 L445.84,249.00 L445.79,249.25 L445.75,249.50 L445.72,249.75 L445.70,250.00 L445.68,250.25 L445.67,250.50 L445.66,250.75 L445.65,251.00 L445.65,251.25 L445.64,251.50 L445.64,251.75 L445.63,252.00 L445.63,252.25 L445.63,252.50 L445.63,252.75 L445.62,253.00 L445.62,253.25 L445.62,253.50 L445.62,253.75 L445.62,254.00 L445.62,254.25 L445.62,254.50 L445.62,254.75 L445.62,255.00 L445.62,255.25 L445.62,255.50 L445.61,255.75 L445.61,256.00 L445.61,256.25 L445.61,256.50 L445.61,256.75 L445.61,257.00 L445.61,257.25 L445.61,257.50 L445.61,257.75 L445.61,258.00 L445.61,258.25 L445.61,258.50 L445.61,258.75 L445.61,259.00 L445.61,259.25 L445.61,259.50 L445.61,259.75 L445.61,260.00 L445.61,260.25 L445.61,260.50 L445.61,260.75 L445.61,261.00 L445.61,261.25 L445.61,261.50 L445.61,261.75 L445.61,262.00 L445.61,262.25 L445.61,262.50 L445.61,262.75 L445.61,263.00 L445.61,263.25 L445.61,263.50 L445.61,263.75 L445.62,264.00 L445.62,264.25 L445.62,264.50 L445.62,264.75 L445.62,265.00 L445.62,265.25 L445.62,265.50 L445.62,265.75 L445.62,266.00 L445.62,266.25 L445.62,266.50 L445.62,266.75 L445.62,267.00 L445.63,267.25 L445.63,267.50 L445.63,267.75 L445.63,268.00 L445.63,268.25 L445.64,268.50 L445.64,268.75 L445.65,269.00 L445.65,269.25 L445.66,269.50 L445.66,269.75 L445.67,270.00 L445.69,270.25 L445.70,270.50 L445.72,270.75 L445.75,271.00 L445.79,271.25 L445.85,271.50 L445.94,271.75 L446.09,272.00 L446.35,272.25 L446.47,272.33 L446.81,272.50 L447.02,272.58 L447.53,272.75 L447.68,272.80 L448.01,273.00 L447.68,273.20 L447.53,273.25 L447.02,273.42 L446.81,273.50 L446.47,273.67 L446.35,273.75 L446.09,274.00 L445.94,274.25 L445.85,274.50 L445.79,274.75 L445.75,275.00 L445.73,275.25 L445.70,275.50 L445.69,275.75 L445.68,276.00 L445.67,276.25 L445.66,276.50 L445.66,276.75 L445.65,277.00 L445.65,277.25 L445.64,277.50 L445.64,277.75 L445.64,278.00 L445.64,278.25 L445.64,278.50 L445.63,278.75 L445.63,279.00 L445.63,279.25 L445.63,279.50 L445.63,279.75 L445.63,280.00 L445.63,280.25 L445.63,280.50 L445.63,280.75 L445.63,281.00 L445.63,281.25 L445.63,281.50 L445.63,281.75 L445.63,282.00 L445.63,282.25 L445.63,282.50 L445.63,282.75 L445.64,283.00 L445.64,283.25 L445.64,283.50 L445.64,283.75 L445.64,284.00 L445.64,284.25 L445.65,284.50 L445.65,284.75 L445.65,285.00 L445.66,285.25 L445.66,285.50 L445.67,285.75 L445.67,286.00 L445.68,286.25 L445.69,286.50 L445.70,286.75 L445.71,287.00 L445.73,287.25 L445.75,287.50 L445.79,287.75 L445.83,288.00 L445.90,288.25 L446.00,288.50 L446.16,288.75 L446.21,288.80 L446.44,289.00 L446.67,289.13 L446.94,289.25 L447.33,289.38 L447.76,289.50 L448.13,289.60 L448.50,289.75 L448.53,289.80 L448.13,290.00 L447.33,290.22 L447.23,290.25 L446.67,290.47 L446.61,290.50 L446.26,290.75 L446.22,290.80 L446.07,291.00 L445.95,291.25 L445.87,291.50 L445.82,291.75 L445.79,292.00 L445.76,292.25 L445.74,292.50 L445.73,292.75 L445.72,293.00 L445.72,293.25 L445.71,293.50 L445.71,293.75 L445.71,294.00 L445.71,294.25 L445.72,294.50 L445.73,294.75 L445.74,295.00 L445.75,295.25 L445.77,295.50 L445.79,295.75 L445.82,296.00 L445.87,296.25 L445.94,296.50 L446.05,296.75 L446.23,297.00 L446.54,297.25 L446.69,297.33 L447.10,297.50 L447.35,297.58 L447.97,297.75 L448.15,297.80 L448.55,298.00 L448.15,298.20 L447.97,298.25 L447.36,298.42 L447.11,298.50 L446.69,298.67 L446.55,298.75 L446.24,299.00 L446.06,299.25 L445.95,299.50 L445.88,299.75 L445.83,300.00 L445.80,300.25 L445.78,300.50 L445.76,300.75 L445.75,301.00 L445.74,301.25 L445.74,301.50 L445.73,301.75 L445.73,302.00 L445.73,302.25 L445.73,302.50 L445.73,302.75 L445.73,303.00 L445.73,303.25 L445.73,303.50 L445.74,303.75 L445.74,304.00 L445.75,304.25 L445.76,304.50 L445.76,304.75 L445.77,305.00 L445.78,305.25 L445.79,305.50 L445.80,305.75 L445.82,306.00 L445.83,306.25 L445.85,306.50 L445.87,306.75 L445.90,307.00 L445.92,307.25 L445.96,307.50 L445.99,307.75 L446.04,308.00 L446.09,308.25 L446.15,308.50 L446.23,308.75 L446.32,309.00 L446.44,309.25 L446.59,309.50 L446.79,309.75 L447.05,310.00 L447.41,310.25 L447.91,310.50 L448.66,310.75 L449.83,311.00 L451.79,311.25 L455.36,311.50 L462.47,311.75 L463.30,311.77 L474.60,311.97 L476.79,312.00 L487.61,312.14 L493.58,312.25 L494.33,312.30 L487.61,312.46 L484.59,312.50 L474.60,312.63 L467.12,312.75 L463.30,312.83 L457.62,313.00 L455.37,313.10 L452.96,313.25 L450.50,313.50 L449.08,313.75 L448.19,314.00 L447.60,314.25 L447.20,314.50 L446.91,314.75 L446.69,315.00 L446.53,315.25 L446.40,315.50 L446.30,315.75 L446.23,316.00 L446.16,316.25 L446.11,316.50 L446.08,316.75 L446.05,317.00 L446.03,317.25 L446.01,317.50 L446.01,317.75 L446.01,318.00 L446.02,318.25 L446.05,318.50 L446.10,318.75 L446.18,319.00 L446.31,319.25 L446.52,319.50 L446.64,319.60 L446.89,319.75 L447.33,319.93 L447.56,320.00 L448.33,320.18 L448.70,320.25 L449.53,320.40 L449.97,320.50 L450.14,320.60 L449.77,320.75 L449.53,320.80 L448.41,321.00 L448.31,321.02 L447.36,321.25 L447.30,321.27 L446.76,321.50 L446.60,321.60 L446.42,321.75 L446.22,322.00 L446.09,322.25 L446.00,322.50 L445.94,322.75 L445.90,323.00 L445.87,323.25 L445.85,323.50 L445.84,323.75 L445.83,324.00 L445.82,324.25 L445.82,324.50 L445.83,324.75 L445.84,325.00 L445.86,325.25 L445.89,325.50 L445.93,325.75 L446.00,326.00 L446.09,326.25 L446.24,326.50 L446.48,326.75 L446.55,326.80 L446.90,327.00 L447.24,327.13 L447.65,327.25 L448.24,327.38 L448.89,327.50 L449.45,327.60 L450.01,327.75 L450.06,327.80 L449.45,328.00 L448.23,328.22 L448.08,328.25 L447.22,328.47 L447.14,328.50 L446.60,328.75 L446.53,328.80 L446.30,329.00 L446.11,329.25 L445.99,329.50 L445.91,329.75 L445.85,330.00 L445.81,330.25 L445.78,330.50 L445.76,330.75 L445.74,331.00 L445.72,331.25 L445.71,331.50 L445.70,331.75 L445.69,332.00 L445.68,332.25 L445.68,332.50 L445.67,332.75 L445.67,333.00 L445.66,333.25 L445.66,333.50 L445.66,333.75 L445.65,334.00 L445.65,334.25 L445.65,334.50 L445.64,334.75 L445.64,335.00 L445.64,335.25 L445.64,335.50 L445.64,335.75 L445.64,336.00 L445.63,336.25 L445.63,336.50 L445.63,336.75 L445.63,337.00 L445.63,337.25 L445.63,337.50 L445.63,337.75 L445.63,338.00 L445.63,338.25 L445.63,338.50 L445.62,338.75 L445.62,339.00 L445.62,339.25 L445.62,339.50 L445.62,339.75 L445.62,340.00 L445.62,340.25 L445.62,340.50 L445.62,340.75 L445.62,341.00 L445.62,341.25 L445.62,341.50 L445.62,341.75 L445.62,342.00 L445.62,342.25 L445.62,342.50 L445.62,342.75 L445.62,343.00 L445.62,343.25 L445.62,343.50 L445.62,343.75 L445.61,344.00 L445.61,344.25 L445.61,344.50 L445.61,344.75 L445.61,345.00 L445.61,345.25 L445.61,345.50 L445.61,345.75 L445.61,346.00 L445.61,346.25 L445.61,346.50 L445.61,346.75 L445.61,347.00 L445.61,347.25 L445.61,347.50 L445.61,347.75 L445.61,348.00 L445.61,348.25 L445.61,348.50 L445.61,348.75 L445.61,349.00 L445.61,349.25 L445.61,349.50 L445.61,349.75 L445.61,350.00 L445.61,350.25 L445.61,350.50 L445.61,350.75 L445.61,351.00 L445.61,351.25 L445.61,351.50 L445.61,351.75 L445.61,352.00 L445.61,352.25 L445.61,352.50 L445.61,352.75 L445.61,353.00 L445.61,353.25 L445.61,353.50 L445.61,353.75 L445.61,354.00 L445.61,354.25 L445.61,354.50 L445.61,354.75 L445.61,355.00 L445.61,355.25 L445.61,355.50 L445.61,355.75 L445.61,356.00 L445.61,356.25 L445.61,356.50 L445.61,356.75 L445.61,357.00 L445.61,357.25 L445.61,357.50 L445.61,357.75 L445.61,358.00 L445.61,358.25 L445.61,358.50 L445.61,358.75 L445.61,359.00 L445.61,359.25 L445.61,359.50 L445.61,359.75 L445.61,360.00 L445.61,360.25 L445.61,360.50 L445.61,360.75 L445.61,361.00 L445.61,361.25 L445.61,361.50 L445.61,361.75 L445.61,362.00 L445.61,362.25 L445.61,362.50 L445.61,362.75 L445.60,363.00 L445.60,363.25 L445.60,363.50 L445.60,363.75 L445.60,364.00 L445.60,364.25 L445.60,364.50 L445.60,364.75 L445.60,365.00 L445.60,365.25 L445.60,365.50 L445.60,365.75 L445.60,366.00 L445.60,366.25 L445.60,366.50 L445.60,366.75 L445.60,367.00 L445.60,367.25 L445.60,367.50 L445.60,367.75 L445.60,368.00 L445.60,368.25 L445.60,368.50 L445.60,368.75 L445.60,369.00 L445.60,369.25 L445.60,369.50 L445.60,369.75 L445.60,370.00 L445.60,370.25 L445.60,370.50 L445.60,370.75 L445.60,371.00 L445.60,371.25 L445.60,371.50 L445.60,371.75 L445.60,372.00 L445.60,372.25 L445.60,372.50 L445.60,372.75 L445.60,373.00" stroke="#333" stroke-width="1.1" fill="none" stroke-linejoin="round"/>
<rect x="285.6" y="212.6" width="212.39999999999998" height="160.79999999999998" fill="none" stroke="#000" stroke-width="1.3"/>
<path d="M285.6,222.65 L288.8,222.65" stroke="#000" stroke-width="1"/>
<path d="M285.6,247.77499999999998 L287.8,247.77499999999998" stroke="#000" stroke-width="1"/>
<path d="M285.6,272.9 L288.8,272.9" stroke="#000" stroke-width="1"/>
<path d="M285.6,298.025 L287.8,298.025" stroke="#000" stroke-width="1"/>
<path d="M285.6,323.15 L288.8,323.15" stroke="#000" stroke-width="1"/>
<path d="M285.6,348.275 L287.8,348.275" stroke="#000" stroke-width="1"/>
<text transform="translate(272.3,222.5) rotate(90)" font-size="11.7" text-anchor="middle" fill="#000" >500</text>
<text transform="translate(272.3,272.5) rotate(90)" font-size="11.7" text-anchor="middle" fill="#000" >1000</text>
<text transform="translate(272.3,323.5) rotate(90)" font-size="11.7" text-anchor="middle" fill="#000" >1500</text>
<text transform="translate(272.3,371.2) rotate(90)" font-size="11.7" text-anchor="middle" fill="#000" >2000</text>
<text transform="translate(262.3,299.9) rotate(90)" font-size="11.5" text-anchor="middle" fill="#000" >Raman Shift (cm<tspan font-size="7" dy="-4">-1</tspan><tspan dy="4">)</tspan></text>
<text x="330.5" y="208.3" font-size="11.45" text-anchor="start" fill="#000">Raman Intensity (a.u.)</text>
<text transform="translate(488.2,201.7) rotate(90)" font-size="14.5" text-anchor="middle" fill="#000" style="stroke-width:0">B</text>
<text transform="translate(301,359.6) rotate(90)" font-size="12.5" text-anchor="start" fill="#000" style="stroke-width:0.1px">iv</text>
<text transform="translate(346.1,359.6) rotate(90)" font-size="12.5" text-anchor="start" fill="#000" style="stroke-width:0.1px">iii</text>
<text transform="translate(402.8,359.6) rotate(90)" font-size="12.5" text-anchor="start" fill="#000" style="stroke-width:0.1px">ii</text>
<text transform="translate(455,359.6) rotate(90)" font-size="12.5" text-anchor="start" fill="#000" style="stroke-width:0.1px">i</text>
<rect x="31.6" y="33.6" width="209.8" height="2.8" fill="#dfdfdf"/>
<rect x="31.6" y="49.9" width="209.8" height="2.8" fill="#dfdfdf"/>
<rect x="31.6" y="75.5" width="209.8" height="2.8" fill="#dfdfdf"/>
<rect x="31.6" y="92.0" width="209.8" height="2.8" fill="#dfdfdf"/>
<rect x="31.6" y="99.6" width="209.8" height="2.8" fill="#dfdfdf"/>
<rect x="31.6" y="115.3" width="209.8" height="2.8" fill="#dfdfdf"/>
<rect x="31.6" y="130.79999999999998" width="209.8" height="2.8" fill="#dfdfdf"/>
<rect x="31.6" y="135.0" width="209.8" height="2.8" fill="#dfdfdf"/>
<rect x="31.6" y="139.0" width="209.8" height="2.8" fill="#dfdfdf"/>
<rect x="29.0" y="17.6" width="4" height="159.4" fill="#fff"/>
<rect x="30.9" y="17.6" width="4" height="159.4" fill="#fff"/>
<rect x="83.9" y="17.6" width="4" height="159.4" fill="#fff"/>
<rect x="137.0" y="17.6" width="4" height="159.4" fill="#fff"/>
<rect x="191.7" y="17.6" width="4" height="159.4" fill="#fff"/>
<path d="M33.5,16.7 L33.5,177" stroke="#f01818" stroke-width="1.3" fill="none"/>
<path d="M33.5,16.5 L38.4,16.5" stroke="#fff" stroke-width="2.6" fill="none"/>
<path d="M33.5,26.5 L36,26.5" stroke="#fff" stroke-width="2.6" fill="none"/>
<path d="M33.5,34.5 L39.9,34.5" stroke="#fff" stroke-width="2.6" fill="none"/>
<path d="M33.5,65.5 L35,65.5" stroke="#fff" stroke-width="2.6" fill="none"/>
<path d="M33.5,83.5 L39,83.5" stroke="#fff" stroke-width="2.6" fill="none"/>
<path d="M33.5,90.5 L36,90.5" stroke="#fff" stroke-width="2.6" fill="none"/>
<path d="M33.5,100.5 L83.4,100.5" stroke="#fff" stroke-width="2.6" fill="none"/>
<path d="M33.5,116.5 L63,116.5" stroke="#fff" stroke-width="2.6" fill="none"/>
<path d="M33.5,132.5 L39.4,132.5" stroke="#fff" stroke-width="2.6" fill="none"/>
<path d="M33.5,136.5 L66.9,136.5" stroke="#fff" stroke-width="2.6" fill="none"/>
<path d="M33.5,140.5 L59.1,140.5" stroke="#fff" stroke-width="2.6" fill="none"/>
<path d="M33.5,16.5 L38.4,16.5" stroke="#f01818" stroke-width="1.3" fill="none"/>
<path d="M33.5,26.5 L36,26.5" stroke="#f01818" stroke-width="1.3" fill="none"/>
<path d="M33.5,34.5 L39.9,34.5" stroke="#f01818" stroke-width="1.3" fill="none"/>
<path d="M33.5,65.5 L35,65.5" stroke="#f01818" stroke-width="1.3" fill="none"/>
<path d="M33.5,83.5 L39,83.5" stroke="#f01818" stroke-width="1.3" fill="none"/>
<path d="M33.5,90.5 L36,90.5" stroke="#f01818" stroke-width="1.3" fill="none"/>
<path d="M33.5,100.5 L83.4,100.5" stroke="#f01818" stroke-width="1.3" fill="none"/>
<path d="M33.5,116.5 L63,116.5" stroke="#f01818" stroke-width="1.3" fill="none"/>
<path d="M33.5,132.5 L39.4,132.5" stroke="#f01818" stroke-width="1.3" fill="none"/>
<path d="M33.5,136.5 L66.9,136.5" stroke="#f01818" stroke-width="1.3" fill="none"/>
<path d="M33.5,140.5 L59.1,140.5" stroke="#f01818" stroke-width="1.3" fill="none"/>
<path d="M86.5,16.7 L86.5,177" stroke="#1414f0" stroke-width="1.4" fill="none"/>
<path d="M86.5,50.5 L113.6,50.5" stroke="#fff" stroke-width="2.6" fill="none"/>
<path d="M86.5,77.5 L93.9,77.5" stroke="#fff" stroke-width="2.6" fill="none"/>
<path d="M86.5,95.5 L94.1,95.5" stroke="#fff" stroke-width="2.6" fill="none"/>
<path d="M86.5,103.5 L92.3,103.5" stroke="#fff" stroke-width="2.6" fill="none"/>
<path d="M86.5,116.5 L136.8,116.5" stroke="#fff" stroke-width="2.6" fill="none"/>
<path d="M86.5,132.5 L99.1,132.5" stroke="#fff" stroke-width="2.6" fill="none"/>
<path d="M86.5,50.5 L113.6,50.5" stroke="#1414f0" stroke-width="1.4" fill="none"/>
<path d="M86.5,77.5 L93.9,77.5" stroke="#1414f0" stroke-width="1.4" fill="none"/>
<path d="M86.5,95.5 L94.1,95.5" stroke="#1414f0" stroke-width="1.4" fill="none"/>
<path d="M86.5,103.5 L92.3,103.5" stroke="#1414f0" stroke-width="1.4" fill="none"/>
<path d="M86.5,116.5 L136.8,116.5" stroke="#1414f0" stroke-width="1.4" fill="none"/>
<path d="M86.5,132.5 L99.1,132.5" stroke="#1414f0" stroke-width="1.4" fill="none"/>
<path d="M86.4,123.5 L92.3,124.3 L91.5,126.0 L88.5,127.5 L92,128.2 L86.4,129.4 Z" fill="#1414f0" stroke="#1414f0" stroke-width="0.8"/>
<path d="M139.5,16.7 L139.5,177" stroke="#5e5e0c" stroke-width="1.3" fill="none"/>
<path d="M139.5,16.5 L153.5,16.5" stroke="#fff" stroke-width="2.6" fill="none"/>
<path d="M139.5,26.5 L149.3,26.5" stroke="#fff" stroke-width="2.6" fill="none"/>
<path d="M139.5,35.5 L190.1,35.5" stroke="#fff" stroke-width="2.6" fill="none"/>
<path d="M139.5,51.5 L148.3,51.5" stroke="#fff" stroke-width="2.6" fill="none"/>
<path d="M139.5,54.5 L149,54.5" stroke="#fff" stroke-width="2.6" fill="none"/>
<path d="M139.5,62.5 L149.6,62.5" stroke="#fff" stroke-width="2.6" fill="none"/>
<path d="M139.5,69.5 L149.3,69.5" stroke="#fff" stroke-width="2.6" fill="none"/>
<path d="M139.5,77.5 L153.5,77.5" stroke="#fff" stroke-width="2.6" fill="none"/>
<path d="M139.5,80.5 L149,80.5" stroke="#fff" stroke-width="2.6" fill="none"/>
<path d="M139.5,93.5 L152.6,93.5" stroke="#fff" stroke-width="2.6" fill="none"/>
<path d="M139.5,101.5 L171,101.5" stroke="#fff" stroke-width="2.6" fill="none"/>
<path d="M139.5,116.5 L171,116.5" stroke="#fff" stroke-width="2.6" fill="none"/>
<path d="M139.5,132.5 L160.6,132.5" stroke="#fff" stroke-width="2.6" fill="none"/>
<path d="M139.5,136.5 L170,136.5" stroke="#fff" stroke-width="2.6" fill="none"/>
<path d="M139.5,139.5 L183.7,139.5" stroke="#fff" stroke-width="2.6" fill="none"/>
<path d="M139.5,16.5 L153.5,16.5" stroke="#5e5e0c" stroke-width="1.3" fill="none"/>
<path d="M139.5,26.5 L149.3,26.5" stroke="#5e5e0c" stroke-width="1.3" fill="none"/>
<path d="M139.5,35.5 L190.1,35.5" stroke="#5e5e0c" stroke-width="1.3" fill="none"/>
<path d="M139.5,51.5 L148.3,51.5" stroke="#5e5e0c" stroke-width="1.3" fill="none"/>
<path d="M139.5,54.5 L149,54.5" stroke="#5e5e0c" stroke-width="1.3" fill="none"/>
<path d="M139.5,62.5 L149.6,62.5" stroke="#5e5e0c" stroke-width="1.3" fill="none"/>
<path d="M139.5,69.5 L149.3,69.5" stroke="#5e5e0c" stroke-width="1.3" fill="none"/>
<path d="M139.5,77.5 L153.5,77.5" stroke="#5e5e0c" stroke-width="1.3" fill="none"/>
<path d="M139.5,80.5 L149,80.5" stroke="#5e5e0c" stroke-width="1.3" fill="none"/>
<path d="M139.5,93.5 L152.6,93.5" stroke="#5e5e0c" stroke-width="1.3" fill="none"/>
<path d="M139.5,101.5 L171,101.5" stroke="#5e5e0c" stroke-width="1.3" fill="none"/>
<path d="M139.5,116.5 L171,116.5" stroke="#5e5e0c" stroke-width="1.3" fill="none"/>
<path d="M139.5,132.5 L160.6,132.5" stroke="#5e5e0c" stroke-width="1.3" fill="none"/>
<path d="M139.5,136.5 L170,136.5" stroke="#5e5e0c" stroke-width="1.3" fill="none"/>
<path d="M139.5,139.5 L183.7,139.5" stroke="#5e5e0c" stroke-width="1.3" fill="none"/>
<path d="M204.1,16.9 L196.9,17.9 L197.54,18.56 L196.78,19.22 L194.28,19.88 L194.13,20.54 L194.3,21.2 L193.5,21.85 L194.52,22.5 L196.01,23.15 L195.6,23.8 L196.6,24.45 L199.0,25.1 L198.87,25.75 L201.5,26.4 L199.16,27.05 L198.99,27.7 L196.64,28.35 L195.6,29.0 L194.53,29.63 L193.9,30.27 L194.3,30.9 L195.65,31.55 L194.82,32.2 L195.1,32.85 L196.3,33.5 L195.75,34.35 L196.9,35.2 L239.8,35.5 L196.9,36.1 L195.45,36.75 L196.62,37.4 L195.82,38.05 L194.3,38.7 L194.73,39.36 L192.74,40.02 L193.05,40.68 L194.08,41.34 L193.0,42.0 L194.81,42.65 L195.54,43.3 L194.98,43.95 L196.3,44.6 L196.18,45.25 L195.52,45.9 L195.09,46.55 L193.7,47.2 L193.49,47.85 L195.97,48.5 L196.98,49.15 L196.9,49.8 L198.22,50.43 L197.48,51.07 L199.5,51.7 L200.02,52.37 L198.18,53.03 L198.2,53.7 L199.78,54.33 L200.16,54.97 L200.2,55.6 L199.78,56.27 L197.55,56.93 L195.6,57.6 L197.11,58.25 L196.46,58.9 L197.06,59.55 L198.9,60.2 L198.21,61.1 L199.5,62.0 L199.35,62.63 L198.23,63.27 L196.9,63.9 L198.49,64.57 L199.74,65.23 L199.5,65.9 L199.29,66.53 L197.87,67.17 L195.6,67.8 L198.08,68.47 L199.83,69.13 L200.2,69.8 L198.76,70.45 L197.66,71.1 L196.87,71.75 L196.3,72.4 L195.89,73.03 L196.18,73.67 L196.9,74.3 L196.84,74.95 L195.0,75.6 L197.46,76.25 L197.6,76.9 L204.0,77.1 L198.9,78.2 L197.96,78.85 L199.27,79.5 L198.86,80.15 L198.2,80.8 L199.08,81.57 L197.88,82.33 L199.5,83.1 L197.13,83.9 L193.7,84.7 L194.7,85.36 L193.54,86.02 L193.23,86.68 L195.07,87.34 L194.3,88.0 L194.18,88.65 L196.77,89.3 L198.39,89.95 L198.2,90.6 L200.13,91.25 L199.42,91.9 L202.43,92.55 L202.8,93.2 L201.74,93.83 L198.73,94.47 L198.2,95.1 L197.68,95.77 L194.79,96.43 L194.3,97.1 L194.01,97.73 L196.03,98.37 L196.9,99.0 L198.85,99.65 L200.8,100.3 L219.0,101.4 L200.8,101.9 L196.9,102.9 L196.43,103.55 L195.95,104.2 L195.47,104.85 L195.0,105.5 L194.9,106.17 L194.8,106.84 L194.7,107.51 L194.6,108.19 L194.5,108.86 L194.4,109.53 L194.3,110.2 L195.6,110.86 L196.9,111.52 L198.2,112.18 L199.5,112.84 L200.8,113.5 L202.53,114.13 L204.27,114.77 L206.0,115.4 L212.2,116.25 L218.4,117.1 L206.0,118.0 L195.6,118.7 L195.86,119.34 L196.12,119.98 L196.38,120.62 L196.64,121.26 L196.9,121.9 L196.37,122.55 L195.83,123.2 L195.3,123.85 L194.77,124.5 L194.23,125.15 L193.7,125.8 L193.85,126.45 L194.0,127.1 L194.15,127.75 L194.3,128.4 L196.47,129.07 L198.63,129.73 L200.8,130.4 L204.4,131.05 L208.0,131.7 L208.47,132.35 L208.95,133.0 L209.43,133.65 L209.9,134.3 L211.2,134.95 L212.5,135.6 L213.8,136.25 L215.1,136.9 L216.4,137.55 L217.7,138.2 L223.25,138.85 L228.8,139.5 L215.1,139.8 L203.4,140.65 L201.84,141.3 L200.28,141.95 L198.72,142.6 L197.16,143.25 L195.6,143.9 L195.22,144.56 L194.84,145.22 L194.46,145.88 L194.1,146.54 L193.7,147.2 L193.45,147.81 L193.79,148.43 L193.41,149.04 L193.84,149.66 L194.23,150.27 L194.17,150.89 L194.07,151.5 L193.75,152.12 L193.86,152.73 L193.73,153.35 L194.25,153.97 L194.09,154.58 L194.31,155.19 L193.98,155.81 L193.93,156.43 L194.43,157.04 L194.6,157.66 L194.52,158.27 L194.51,158.88 L194.3,159.5 L194.58,160.12 L194.54,160.74 L194.16,161.35 L194.41,161.97 L194.31,162.59 L194.07,163.21 L194.1,163.82 L194.32,164.44 L194.33,165.06 L194.7,165.68 L194.94,166.3 L194.56,166.91 L194.97,167.53 L195.04,168.15 L195.04,168.77 L194.59,169.39 L194.5,170.0 L194.53,170.62 L194.53,171.24 L194.56,171.86 L194.92,172.48 L195.17,173.09 L195.15,173.71 L194.88,174.33 L195.05,174.95 L195.19,175.56 L194.64,176.18 L195,176.8" stroke="#fff" stroke-width="2.2" fill="none" stroke-linejoin="round"/>
<path d="M204.1,16.9 L196.9,17.9 L197.54,18.56 L196.78,19.22 L194.28,19.88 L194.13,20.54 L194.3,21.2 L193.5,21.85 L194.52,22.5 L196.01,23.15 L195.6,23.8 L196.6,24.45 L199.0,25.1 L198.87,25.75 L201.5,26.4 L199.16,27.05 L198.99,27.7 L196.64,28.35 L195.6,29.0 L194.53,29.63 L193.9,30.27 L194.3,30.9 L195.65,31.55 L194.82,32.2 L195.1,32.85 L196.3,33.5 L195.75,34.35 L196.9,35.2 L239.8,35.5 L196.9,36.1 L195.45,36.75 L196.62,37.4 L195.82,38.05 L194.3,38.7 L194.73,39.36 L192.74,40.02 L193.05,40.68 L194.08,41.34 L193.0,42.0 L194.81,42.65 L195.54,43.3 L194.98,43.95 L196.3,44.6 L196.18,45.25 L195.52,45.9 L195.09,46.55 L193.7,47.2 L193.49,47.85 L195.97,48.5 L196.98,49.15 L196.9,49.8 L198.22,50.43 L197.48,51.07 L199.5,51.7 L200.02,52.37 L198.18,53.03 L198.2,53.7 L199.78,54.33 L200.16,54.97 L200.2,55.6 L199.78,56.27 L197.55,56.93 L195.6,57.6 L197.11,58.25 L196.46,58.9 L197.06,59.55 L198.9,60.2 L198.21,61.1 L199.5,62.0 L199.35,62.63 L198.23,63.27 L196.9,63.9 L198.49,64.57 L199.74,65.23 L199.5,65.9 L199.29,66.53 L197.87,67.17 L195.6,67.8 L198.08,68.47 L199.83,69.13 L200.2,69.8 L198.76,70.45 L197.66,71.1 L196.87,71.75 L196.3,72.4 L195.89,73.03 L196.18,73.67 L196.9,74.3 L196.84,74.95 L195.0,75.6 L197.46,76.25 L197.6,76.9 L204.0,77.1 L198.9,78.2 L197.96,78.85 L199.27,79.5 L198.86,80.15 L198.2,80.8 L199.08,81.57 L197.88,82.33 L199.5,83.1 L197.13,83.9 L193.7,84.7 L194.7,85.36 L193.54,86.02 L193.23,86.68 L195.07,87.34 L194.3,88.0 L194.18,88.65 L196.77,89.3 L198.39,89.95 L198.2,90.6 L200.13,91.25 L199.42,91.9 L202.43,92.55 L202.8,93.2 L201.74,93.83 L198.73,94.47 L198.2,95.1 L197.68,95.77 L194.79,96.43 L194.3,97.1 L194.01,97.73 L196.03,98.37 L196.9,99.0 L198.85,99.65 L200.8,100.3 L219.0,101.4 L200.8,101.9 L196.9,102.9 L196.43,103.55 L195.95,104.2 L195.47,104.85 L195.0,105.5 L194.9,106.17 L194.8,106.84 L194.7,107.51 L194.6,108.19 L194.5,108.86 L194.4,109.53 L194.3,110.2 L195.6,110.86 L196.9,111.52 L198.2,112.18 L199.5,112.84 L200.8,113.5 L202.53,114.13 L204.27,114.77 L206.0,115.4 L212.2,116.25 L218.4,117.1 L206.0,118.0 L195.6,118.7 L195.86,119.34 L196.12,119.98 L196.38,120.62 L196.64,121.26 L196.9,121.9 L196.37,122.55 L195.83,123.2 L195.3,123.85 L194.77,124.5 L194.23,125.15 L193.7,125.8 L193.85,126.45 L194.0,127.1 L194.15,127.75 L194.3,128.4 L196.47,129.07 L198.63,129.73 L200.8,130.4 L204.4,131.05 L208.0,131.7 L208.47,132.35 L208.95,133.0 L209.43,133.65 L209.9,134.3 L211.2,134.95 L212.5,135.6 L213.8,136.25 L215.1,136.9 L216.4,137.55 L217.7,138.2 L223.25,138.85 L228.8,139.5 L215.1,139.8 L203.4,140.65 L201.84,141.3 L200.28,141.95 L198.72,142.6 L197.16,143.25 L195.6,143.9 L195.22,144.56 L194.84,145.22 L194.46,145.88 L194.1,146.54 L193.7,147.2 L193.45,147.81 L193.79,148.43 L193.41,149.04 L193.84,149.66 L194.23,150.27 L194.17,150.89 L194.07,151.5 L193.75,152.12 L193.86,152.73 L193.73,153.35 L194.25,153.97 L194.09,154.58 L194.31,155.19 L193.98,155.81 L193.93,156.43 L194.43,157.04 L194.6,157.66 L194.52,158.27 L194.51,158.88 L194.3,159.5 L194.58,160.12 L194.54,160.74 L194.16,161.35 L194.41,161.97 L194.31,162.59 L194.07,163.21 L194.1,163.82 L194.32,164.44 L194.33,165.06 L194.7,165.68 L194.94,166.3 L194.56,166.91 L194.97,167.53 L195.04,168.15 L195.04,168.77 L194.59,169.39 L194.5,170.0 L194.53,170.62 L194.53,171.24 L194.56,171.86 L194.92,172.48 L195.17,173.09 L195.15,173.71 L194.88,174.33 L195.05,174.95 L195.19,175.56 L194.64,176.18 L195,176.8" stroke="#c4c400" stroke-width="1.6" fill="none" stroke-linejoin="miter"/>
<rect x="30.6" y="16.6" width="212.8" height="161.4" fill="none" stroke="#000" stroke-width="1.3"/>
<path d="M33.4,16.9 L38.4,16.9" stroke="#f01818" stroke-width="1.5"/>
<path d="M139.5,16.9 L153.5,16.9" stroke="#5e5e0c" stroke-width="1.5"/>
<path d="M196.9,17.6 L204.1,16.9" stroke="#c8c800" stroke-width="1.7"/>
<path d="M30.6,26.6875 L33.800000000000004,26.6875" stroke="#000" stroke-width="1"/>
<path d="M30.6,51.90625 L32.800000000000004,51.90625" stroke="#000" stroke-width="1"/>
<path d="M30.6,77.125 L33.800000000000004,77.125" stroke="#000" stroke-width="1"/>
<path d="M30.6,102.34375 L32.800000000000004,102.34375" stroke="#000" stroke-width="1"/>
<path d="M30.6,127.5625 L33.800000000000004,127.5625" stroke="#000" stroke-width="1"/>
<path d="M30.6,152.78125 L32.800000000000004,152.78125" stroke="#000" stroke-width="1"/>
<text transform="translate(17.6,30) rotate(90)" font-size="11.7" text-anchor="middle" fill="#000" >500</text>
<text transform="translate(17.6,80.4) rotate(90)" font-size="11.7" text-anchor="middle" fill="#000" >1000</text>
<text transform="translate(17.6,130.2) rotate(90)" font-size="11.7" text-anchor="middle" fill="#000" >1500</text>
<text transform="translate(17.6,177.3) rotate(90)" font-size="11.7" text-anchor="middle" fill="#000" >2000</text>
<text transform="translate(6.5,105.2) rotate(90)" font-size="11.5" text-anchor="middle" fill="#000" >Raman Shift (cm<tspan font-size="7" dy="-4">-1</tspan><tspan dy="4">)</tspan></text>
<text x="75.3" y="12.3" font-size="11.45" text-anchor="start" fill="#000">Raman Intensity (a.u.)</text>
<text transform="translate(232.5,6.3) rotate(90)" font-size="14.5" text-anchor="middle" fill="#000" style="stroke-width:0">C</text>
<text transform="translate(41.5,165.5) rotate(90)" font-size="12.5" text-anchor="start" fill="#000" style="stroke-width:0.1px">iv</text>
<text transform="translate(91.3,165.5) rotate(90)" font-size="12.5" text-anchor="start" fill="#000" style="stroke-width:0.1px">iii</text>
<text transform="translate(146.2,165.5) rotate(90)" font-size="12.5" text-anchor="start" fill="#000" style="stroke-width:0.1px">ii</text>
<text transform="translate(200.3,165.5) rotate(90)" font-size="12.5" text-anchor="start" fill="#000" style="stroke-width:0.1px">i</text>
<rect x="60.45" y="222.3" width="124.24999999999999" height="5.5" fill="#ff0a0a"/>
<rect x="60.45" y="227.8" width="27.950000000000003" height="5.8" fill="#16168c"/>
<rect x="60.45" y="236.93" width="101.35000000000001" height="5.5" fill="#ff0a0a"/>
<rect x="60.45" y="242.43" width="17.549999999999997" height="5.8" fill="#16168c"/>
<rect x="60.45" y="251.56" width="103.55" height="5.5" fill="#ff0a0a"/>
<rect x="60.45" y="257.06" width="42.55" height="5.8" fill="#16168c"/>
<rect x="60.45" y="266.19" width="121.95" height="5.5" fill="#ff0a0a"/>
<rect x="60.45" y="271.69" width="31.549999999999997" height="5.8" fill="#16168c"/>
<rect x="60.45" y="280.82" width="94.14999999999999" height="5.5" fill="#ff0a0a"/>
<rect x="60.45" y="286.32" width="10.549999999999997" height="5.8" fill="#16168c"/>
<rect x="60.45" y="295.45000000000005" width="139.55" height="5.5" fill="#ff0a0a"/>
<rect x="60.45" y="300.95000000000005" width="43.55" height="5.8" fill="#16168c"/>
<rect x="60.45" y="310.08000000000004" width="123.14999999999999" height="5.5" fill="#ff0a0a"/>
<rect x="60.45" y="315.58000000000004" width="28.549999999999997" height="5.8" fill="#16168c"/>
<rect x="60.45" y="324.71000000000004" width="130.55" height="5.5" fill="#ff0a0a"/>
<rect x="60.45" y="330.21000000000004" width="19.14999999999999" height="5.8" fill="#16168c"/>
<rect x="60.45" y="339.34000000000003" width="115.55" height="5.5" fill="#ff0a0a"/>
<rect x="60.45" y="344.84000000000003" width="41.95" height="5.8" fill="#16168c"/>
<rect x="60.45" y="353.97" width="140.55" height="5.5" fill="#ff0a0a"/>
<rect x="60.45" y="359.47" width="32.55" height="5.8" fill="#16168c"/>
<rect x="202.2" y="217.8" width="10.2" height="17.1" fill="#ff0a0a" stroke="#700" stroke-width="0.4"/>
<rect x="190.9" y="217.8" width="9.3" height="17.1" fill="#16168c" stroke="#000" stroke-width="0.4"/>
<text transform="translate(203.3,236.5) rotate(90)" font-size="8.5" text-anchor="start" fill="#000" style="stroke-width:0.1px">CalPSim</text>
<text transform="translate(192.1,236.5) rotate(90)" font-size="8.5" text-anchor="start" fill="#000" style="stroke-width:0.1px">NormSim</text>
<rect x="60.45" y="213.4" width="154.85000000000002" height="159.79999999999998" fill="none" stroke="#000" stroke-width="1.3"/>
<path d="M60.45,213.4 L60.45,216.6" stroke="#000" stroke-width="1"/>
<text transform="translate(61.8,203.9) rotate(90)" font-size="11.2" text-anchor="middle" fill="#000" >0.0</text>
<path d="M75.80000000000001,213.4 L75.80000000000001,215.6" stroke="#000" stroke-width="1"/>
<path d="M91.15,213.4 L91.15,216.6" stroke="#000" stroke-width="1"/>
<text transform="translate(91.19999999999999,203.9) rotate(90)" font-size="11.2" text-anchor="middle" fill="#000" >0.2</text>
<path d="M106.5,213.4 L106.5,215.6" stroke="#000" stroke-width="1"/>
<path d="M121.85000000000001,213.4 L121.85000000000001,216.6" stroke="#000" stroke-width="1"/>
<text transform="translate(120.6,203.9) rotate(90)" font-size="11.2" text-anchor="middle" fill="#000" >0.4</text>
<path d="M137.2,213.4 L137.2,215.6" stroke="#000" stroke-width="1"/>
<path d="M152.55,213.4 L152.55,216.6" stroke="#000" stroke-width="1"/>
<text transform="translate(150.0,203.9) rotate(90)" font-size="11.2" text-anchor="middle" fill="#000" >0.6</text>
<path d="M167.89999999999998,213.4 L167.89999999999998,215.6" stroke="#000" stroke-width="1"/>
<path d="M183.25,213.4 L183.25,216.6" stroke="#000" stroke-width="1"/>
<text transform="translate(179.39999999999998,203.9) rotate(90)" font-size="11.2" text-anchor="middle" fill="#000" >0.8</text>
<path d="M198.60000000000002,213.4 L198.60000000000002,215.6" stroke="#000" stroke-width="1"/>
<path d="M213.95,213.4 L213.95,216.6" stroke="#000" stroke-width="1"/>
<text transform="translate(208.8,203.9) rotate(90)" font-size="11.2" text-anchor="middle" fill="#000" >1.0</text>
<text x="94.3" y="193.5" font-size="11.4" text-anchor="start" fill="#000">Similarity Value</text>
<text transform="translate(233.0,201.9) rotate(90)" font-size="14.5" text-anchor="middle" fill="#000" style="stroke-width:0">D</text>
<text transform="translate(53.8,234.4) rotate(35)" font-size="11.2" text-anchor="end">B[a]A</text>
<text transform="translate(53.8,249.03) rotate(35)" font-size="11.2" text-anchor="end">B[a]P</text>
<text transform="translate(53.8,263.66) rotate(35)" font-size="11.2" text-anchor="end">B[b]F</text>
<text transform="translate(53.8,278.29) rotate(35)" font-size="11.2" text-anchor="end">B[g,h,i]P</text>
<text transform="translate(53.8,292.92) rotate(35)" font-size="11.2" text-anchor="end">CHY</text>
<text transform="translate(53.8,307.55000000000007) rotate(35)" font-size="11.2" text-anchor="end">ANTH</text>
<text transform="translate(53.8,322.18000000000006) rotate(35)" font-size="11.2" text-anchor="end">PYR</text>
<text transform="translate(53.8,336.81000000000006) rotate(35)" font-size="11.2" text-anchor="end">NAP</text>
<text transform="translate(53.8,351.44000000000005) rotate(35)" font-size="11.2" text-anchor="end">FL</text>
<text transform="translate(53.8,366.07000000000005) rotate(35)" font-size="11.2" text-anchor="end">DB[a,h]A</text>
</svg></body></html>
